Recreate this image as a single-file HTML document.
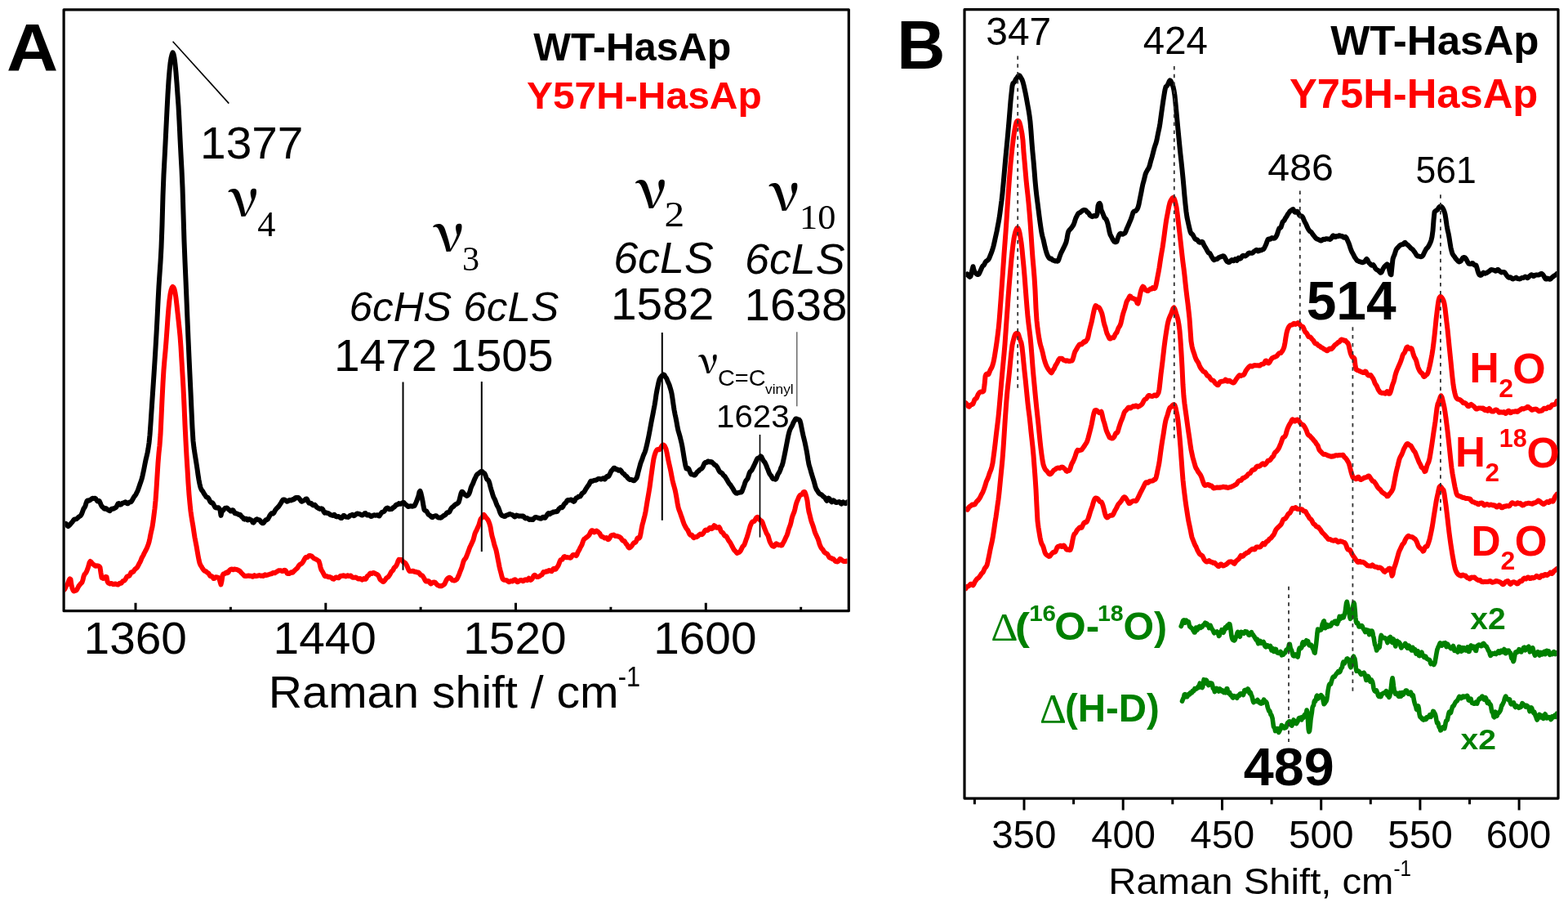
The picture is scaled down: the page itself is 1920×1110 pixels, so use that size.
<!DOCTYPE html><html><head><meta charset="utf-8"><title>Raman spectra</title><style>html,body{margin:0;padding:0;background:#fff;overflow:hidden}svg{display:block}</style></head><body>
<svg width="1920" height="1110" viewBox="0 0 1920 1110">
<rect width="1920" height="1110" fill="#fff"/>
<defs><clipPath id="ca"><rect x="79.5" y="13" width="958" height="733"/></clipPath><clipPath id="cb"><rect x="1182.5" y="13" width="724" height="962.5"/></clipPath></defs>
<g clip-path="url(#ca)" fill="none" stroke-linejoin="round" stroke-linecap="round">
<path d="M78.5,721.9 79.5,720.6 80.5,718.5 81.5,716.5 82.5,715.3 83.5,712.9 84.5,710.0 85.5,708.4 86.5,709.2 87.5,715.9 88.5,720.0 89.5,722.5 90.5,723.4 91.5,723.0 92.5,722.8 93.5,722.3 94.5,721.0 95.5,719.0 96.5,717.1 97.5,715.8 98.5,714.6 99.5,713.6 100.5,712.6 101.5,709.6 102.5,705.3 103.5,702.8 104.5,701.8 105.5,700.5 106.5,698.2 107.5,695.6 108.5,692.4 109.5,688.6 110.5,687.0 111.5,687.7 112.5,688.9 113.5,690.0 114.5,690.8 115.5,691.7 116.5,692.6 117.5,692.8 118.5,692.3 119.5,692.4 120.5,692.7 121.5,693.0 122.5,694.4 123.5,701.2 124.5,707.0 125.5,707.5 126.5,707.9 127.5,707.7 128.5,706.7 129.5,705.8 130.5,706.1 131.5,711.5 132.5,713.4 133.5,713.8 134.5,714.4 135.5,714.3 136.5,713.9 137.5,714.4 138.5,715.1 139.5,715.1 140.5,714.5 141.5,714.4 142.5,715.0 143.5,715.4 144.5,715.6 145.5,714.9 146.5,713.8 147.5,713.8 148.5,713.7 149.5,712.3 150.5,711.1 151.5,710.8 152.5,710.4 153.5,709.2 154.5,707.3 155.5,705.7 156.5,705.2 157.5,705.0 158.5,704.5 159.5,702.8 160.5,700.6 161.5,700.0 162.5,700.2 163.5,699.4 164.5,697.7 165.5,696.5 166.5,695.8 167.5,694.9 168.5,693.6 169.5,691.7 170.5,689.6 171.5,687.9 172.5,685.8 173.5,683.0 174.5,681.2 175.5,679.5 176.5,677.2 177.5,675.4 178.5,673.5 179.5,671.5 180.5,669.1 181.5,666.5 182.5,663.4 183.5,658.9 184.5,653.6 185.5,649.1 186.5,644.8 187.5,638.3 188.5,630.5 189.5,622.5 190.5,612.5 191.5,598.6 192.5,582.5 193.5,566.8 194.5,554.4 195.5,545.3 196.5,531.8 197.5,511.1 198.5,488.9 199.5,469.2 200.5,452.4 201.5,440.3 202.5,429.8 203.5,417.6 204.5,403.6 205.5,389.3 206.5,377.1 207.5,367.1 208.5,359.8 209.5,355.0 210.5,352.2 211.5,350.9 212.5,351.8 213.5,354.0 214.5,358.4 215.5,364.9 216.5,373.3 217.5,382.7 218.5,391.7 219.5,401.1 220.5,411.1 221.5,424.7 222.5,441.6 223.5,458.1 224.5,475.1 225.5,496.1 226.5,519.9 227.5,540.2 228.5,558.4 229.5,574.2 230.5,591.3 231.5,605.0 232.5,616.1 233.5,625.6 234.5,632.6 235.5,638.7 236.5,644.6 237.5,651.4 238.5,657.8 239.5,663.0 240.5,668.1 241.5,674.0 242.5,679.8 243.5,685.0 244.5,689.2 245.5,691.6 246.5,693.1 247.5,694.8 248.5,696.3 249.5,697.6 250.5,698.6 251.5,699.0 252.5,699.5 253.5,700.6 254.5,701.1 255.5,701.7 256.5,703.5 257.5,705.0 258.5,705.3 259.5,705.2 260.5,706.3 261.5,708.1 262.5,707.9 263.5,706.5 264.5,706.2 265.5,706.5 266.5,706.5 267.5,707.1 268.5,708.2 269.5,712.1 270.5,715.3 271.5,711.0 272.5,704.2 273.5,702.5 274.5,702.3 275.5,702.0 276.5,700.9 277.5,700.4 278.5,701.1 279.5,700.6 280.5,698.7 281.5,697.5 282.5,696.9 283.5,696.5 284.5,696.7 285.5,697.2 286.5,696.7 287.5,696.5 288.5,696.8 289.5,696.9 290.5,697.1 291.5,697.7 292.5,698.2 293.5,698.7 294.5,699.8 295.5,701.0 296.5,702.0 297.5,703.0 298.5,704.0 299.5,704.9 300.5,705.1 301.5,705.0 302.5,704.8 303.5,704.5 304.5,704.6 305.5,704.9 306.5,704.7 307.5,704.9 308.5,705.6 309.5,705.7 310.5,704.6 311.5,704.1 312.5,704.8 313.5,705.1 314.5,704.7 315.5,704.8 316.5,704.4 317.5,704.1 318.5,704.5 319.5,704.8 320.5,704.5 321.5,704.5 322.5,705.0 323.5,704.2 324.5,703.4 325.5,703.8 326.5,704.0 327.5,703.7 328.5,703.3 329.5,703.0 330.5,702.7 331.5,702.4 332.5,702.2 333.5,701.5 334.5,700.9 335.5,701.2 336.5,701.2 337.5,700.5 338.5,699.9 339.5,699.5 340.5,698.5 341.5,698.2 342.5,698.3 343.5,698.2 344.5,698.5 345.5,699.0 346.5,698.9 347.5,698.1 348.5,697.7 349.5,698.1 350.5,699.4 351.5,701.6 352.5,702.0 353.5,701.8 354.5,702.0 355.5,701.2 356.5,700.4 357.5,700.8 358.5,700.7 359.5,699.4 360.5,698.4 361.5,697.5 362.5,696.5 363.5,695.8 364.5,694.7 365.5,692.8 366.5,691.5 367.5,690.7 368.5,690.2 369.5,689.6 370.5,688.4 371.5,686.8 372.5,685.0 373.5,683.2 374.5,682.0 375.5,682.1 376.5,682.0 377.5,680.9 378.5,680.0 379.5,680.0 380.5,680.2 381.5,680.6 382.5,681.4 383.5,682.5 384.5,683.5 385.5,683.8 386.5,684.2 387.5,684.8 388.5,685.4 389.5,686.1 390.5,686.8 391.5,689.9 392.5,694.5 393.5,697.4 394.5,699.1 395.5,700.8 396.5,702.7 397.5,704.8 398.5,705.3 399.5,705.1 400.5,705.3 401.5,705.9 402.5,706.3 403.5,706.1 404.5,706.2 405.5,706.8 406.5,707.5 407.5,708.4 408.5,708.7 409.5,708.0 410.5,707.0 411.5,706.4 412.5,706.7 413.5,707.1 414.5,707.3 415.5,706.6 416.5,705.1 417.5,704.7 418.5,704.8 419.5,704.8 420.5,704.3 421.5,704.4 422.5,705.2 423.5,705.5 424.5,704.9 425.5,704.2 426.5,704.5 427.5,705.1 428.5,704.7 429.5,704.5 430.5,705.6 431.5,706.6 432.5,706.8 433.5,706.7 434.5,706.7 435.5,706.6 436.5,707.0 437.5,707.6 438.5,708.4 439.5,708.6 440.5,708.1 441.5,708.2 442.5,709.0 443.5,709.6 444.5,709.1 445.5,708.1 446.5,708.3 447.5,708.8 448.5,707.8 449.5,705.5 450.5,704.6 451.5,704.1 452.5,702.4 453.5,701.5 454.5,702.0 455.5,701.9 456.5,701.1 457.5,700.9 458.5,701.4 459.5,702.0 460.5,702.5 461.5,702.9 462.5,703.4 463.5,704.8 464.5,707.0 465.5,709.1 466.5,710.1 467.5,710.6 468.5,711.6 469.5,712.0 470.5,711.1 471.5,709.9 472.5,708.4 473.5,707.1 474.5,706.6 475.5,705.8 476.5,704.5 477.5,703.1 478.5,700.9 479.5,699.3 480.5,698.5 481.5,697.3 482.5,695.0 483.5,693.9 484.5,693.2 485.5,691.8 486.5,689.5 487.5,686.5 488.5,684.8 489.5,684.9 490.5,684.9 491.5,685.0 492.5,685.9 493.5,687.5 494.5,688.3 495.5,688.5 496.5,689.3 497.5,690.8 498.5,692.8 499.5,695.3 500.5,697.7 501.5,699.1 502.5,699.0 503.5,699.0 504.5,699.0 505.5,698.8 506.5,699.0 507.5,699.7 508.5,699.9 509.5,699.8 510.5,700.4 511.5,700.5 512.5,700.5 513.5,701.5 514.5,703.0 515.5,703.9 516.5,704.1 517.5,704.9 518.5,706.4 519.5,708.1 520.5,710.1 521.5,711.4 522.5,711.5 523.5,711.0 524.5,710.9 525.5,711.7 526.5,713.4 527.5,714.4 528.5,714.0 529.5,713.0 530.5,712.6 531.5,712.4 532.5,712.6 533.5,713.5 534.5,714.9 535.5,715.9 536.5,716.3 537.5,716.9 538.5,717.3 539.5,717.1 540.5,717.2 541.5,716.8 542.5,716.0 543.5,715.7 544.5,714.5 545.5,712.3 546.5,710.2 547.5,708.6 548.5,707.6 549.5,707.0 550.5,706.8 551.5,707.2 552.5,708.5 553.5,709.7 554.5,710.2 555.5,710.5 556.5,710.5 557.5,710.0 558.5,709.6 559.5,708.7 560.5,706.8 561.5,704.6 562.5,702.1 563.5,699.3 564.5,696.8 565.5,694.3 566.5,690.8 567.5,687.3 568.5,685.0 569.5,683.9 570.5,682.6 571.5,680.2 572.5,677.5 573.5,674.9 574.5,672.1 575.5,669.3 576.5,667.4 577.5,665.3 578.5,663.1 579.5,660.8 580.5,656.9 581.5,653.1 582.5,650.8 583.5,649.0 584.5,646.6 585.5,644.5 586.5,642.0 587.5,638.6 588.5,635.4 589.5,634.0 590.5,633.2 591.5,631.0 592.5,629.9 593.5,631.0 594.5,632.6 595.5,633.9 596.5,634.9 597.5,636.3 598.5,638.5 599.5,641.2 600.5,644.8 601.5,650.7 602.5,655.9 603.5,659.3 604.5,663.3 605.5,667.4 606.5,670.1 607.5,673.4 608.5,678.2 609.5,683.3 610.5,688.4 611.5,693.6 612.5,697.8 613.5,701.4 614.5,705.5 615.5,708.4 616.5,709.5 617.5,709.7 618.5,709.9 619.5,710.1 620.5,710.3 621.5,711.0 622.5,711.7 623.5,712.2 624.5,711.6 625.5,710.9 626.5,711.3 627.5,711.4 628.5,710.4 629.5,709.6 630.5,709.3 631.5,709.8 632.5,711.4 633.5,712.3 634.5,711.9 635.5,711.1 636.5,710.4 637.5,710.0 638.5,710.0 639.5,710.8 640.5,711.2 641.5,710.6 642.5,709.6 643.5,709.2 644.5,709.8 645.5,710.1 646.5,708.8 647.5,707.7 648.5,708.7 649.5,709.9 650.5,709.6 651.5,708.5 652.5,706.6 653.5,704.6 654.5,703.8 655.5,704.3 656.5,705.4 657.5,706.1 658.5,706.1 659.5,705.7 660.5,705.3 661.5,704.5 662.5,703.9 663.5,703.4 664.5,701.7 665.5,700.1 666.5,700.3 667.5,700.1 668.5,699.3 669.5,699.5 670.5,699.5 671.5,698.5 672.5,698.0 673.5,698.3 674.5,698.9 675.5,699.2 676.5,697.9 677.5,696.1 678.5,695.8 679.5,696.7 680.5,696.7 681.5,695.1 682.5,693.7 683.5,692.3 684.5,689.9 685.5,687.1 686.5,685.2 687.5,685.0 688.5,684.7 689.5,682.9 690.5,681.4 691.5,681.1 692.5,681.7 693.5,682.2 694.5,682.1 695.5,682.2 696.5,682.4 697.5,682.6 698.5,682.8 699.5,681.9 700.5,680.3 701.5,679.1 702.5,678.9 703.5,679.1 704.5,679.6 705.5,680.1 706.5,678.8 707.5,676.0 708.5,674.2 709.5,672.6 710.5,670.2 711.5,668.5 712.5,666.7 713.5,663.7 714.5,661.0 715.5,659.6 716.5,659.0 717.5,658.2 718.5,657.4 719.5,656.6 720.5,655.7 721.5,654.6 722.5,652.5 723.5,650.4 724.5,649.3 725.5,649.3 726.5,650.5 727.5,651.4 728.5,651.0 729.5,650.0 730.5,649.6 731.5,650.2 732.5,651.2 733.5,652.0 734.5,653.1 735.5,655.1 736.5,656.6 737.5,656.7 738.5,657.2 739.5,657.9 740.5,658.6 741.5,658.3 742.5,658.0 743.5,659.2 744.5,660.3 745.5,659.8 746.5,658.6 747.5,656.7 748.5,655.2 749.5,655.1 750.5,654.8 751.5,654.6 752.5,655.5 753.5,655.9 754.5,655.9 755.5,656.2 756.5,656.3 757.5,656.7 758.5,657.1 759.5,657.7 760.5,658.7 761.5,660.3 762.5,661.5 763.5,661.9 764.5,662.0 765.5,663.6 766.5,665.4 767.5,666.3 768.5,668.0 769.5,669.8 770.5,670.5 771.5,670.1 772.5,669.2 773.5,668.2 774.5,666.7 775.5,665.0 776.5,664.2 777.5,664.0 778.5,663.3 779.5,661.2 780.5,658.7 781.5,658.1 782.5,658.7 783.5,657.6 784.5,653.3 785.5,647.4 786.5,642.3 787.5,638.7 788.5,634.7 789.5,630.9 790.5,626.3 791.5,620.3 792.5,614.1 793.5,608.3 794.5,602.6 795.5,596.4 796.5,589.2 797.5,581.7 798.5,574.5 799.5,567.4 800.5,561.2 801.5,557.2 802.5,554.2 803.5,551.8 804.5,550.5 805.5,550.0 806.5,550.3 807.5,550.2 808.5,549.1 809.5,547.3 810.5,545.7 811.5,544.7 812.5,544.5 813.5,545.3 814.5,547.1 815.5,549.4 816.5,553.6 817.5,558.9 818.5,563.8 819.5,568.4 820.5,572.7 821.5,577.5 822.5,582.9 823.5,587.9 824.5,592.1 825.5,595.5 826.5,599.2 827.5,604.0 828.5,609.5 829.5,615.6 830.5,620.8 831.5,624.1 832.5,626.6 833.5,629.5 834.5,632.4 835.5,635.1 836.5,638.3 837.5,641.1 838.5,643.1 839.5,645.0 840.5,646.8 841.5,647.9 842.5,649.5 843.5,651.9 844.5,653.8 845.5,654.8 846.5,654.4 847.5,655.0 848.5,657.2 849.5,658.2 850.5,657.6 851.5,657.1 852.5,657.3 853.5,656.9 854.5,656.2 855.5,655.2 856.5,654.3 857.5,653.5 858.5,653.8 859.5,654.2 860.5,653.4 861.5,652.2 862.5,650.4 863.5,648.9 864.5,648.4 865.5,648.9 866.5,649.0 867.5,648.1 868.5,646.5 869.5,645.8 870.5,646.3 871.5,647.1 872.5,646.6 873.5,644.6 874.5,643.2 875.5,643.7 876.5,645.3 877.5,645.8 878.5,645.6 879.5,645.3 880.5,645.0 881.5,646.6 882.5,649.5 883.5,651.1 884.5,651.6 885.5,652.5 886.5,654.4 887.5,655.8 888.5,655.7 889.5,656.5 890.5,658.3 891.5,660.2 892.5,661.9 893.5,663.2 894.5,664.7 895.5,666.6 896.5,668.5 897.5,670.4 898.5,672.3 899.5,673.7 900.5,674.5 901.5,675.8 902.5,676.9 903.5,676.5 904.5,676.0 905.5,675.6 906.5,674.5 907.5,672.7 908.5,670.6 909.5,668.7 910.5,667.8 911.5,666.6 912.5,663.8 913.5,660.7 914.5,658.2 915.5,655.0 916.5,651.5 917.5,647.7 918.5,644.2 919.5,641.7 920.5,639.6 921.5,638.5 922.5,638.3 923.5,638.0 924.5,636.6 925.5,634.7 926.5,633.4 927.5,632.8 928.5,633.7 929.5,635.2 930.5,636.3 931.5,637.0 932.5,637.6 933.5,639.2 934.5,641.8 935.5,644.9 936.5,647.4 937.5,649.8 938.5,652.5 939.5,653.9 940.5,655.7 941.5,659.1 942.5,662.4 943.5,664.6 944.5,666.4 945.5,667.9 946.5,668.5 947.5,668.8 948.5,668.1 949.5,666.2 950.5,665.3 951.5,665.7 952.5,666.6 953.5,667.0 954.5,666.9 955.5,666.8 956.5,667.5 957.5,667.3 958.5,665.4 959.5,663.6 960.5,661.8 961.5,659.4 962.5,657.2 963.5,655.3 964.5,652.4 965.5,648.6 966.5,645.6 967.5,643.2 968.5,639.5 969.5,634.9 970.5,631.3 971.5,628.8 972.5,626.5 973.5,622.7 974.5,618.2 975.5,614.8 976.5,612.6 977.5,610.0 978.5,607.7 979.5,606.3 980.5,605.4 981.5,605.3 982.5,604.5 983.5,602.7 984.5,601.9 985.5,602.2 986.5,604.9 987.5,608.4 988.5,612.6 989.5,620.4 990.5,626.4 991.5,629.9 992.5,634.3 993.5,638.1 994.5,640.7 995.5,643.5 996.5,646.7 997.5,650.3 998.5,652.9 999.5,655.1 1000.5,657.4 1001.5,659.3 1002.5,662.4 1003.5,665.9 1004.5,668.4 1005.5,670.4 1006.5,671.7 1007.5,672.7 1008.5,674.3 1009.5,675.9 1010.5,676.7 1011.5,677.1 1012.5,677.6 1013.5,678.7 1014.5,680.6 1015.5,682.3 1016.5,682.7 1017.5,682.7 1018.5,683.7 1019.5,684.1 1020.5,684.1 1021.5,685.2 1022.5,686.5 1023.5,687.1 1024.5,687.3 1025.5,687.4 1026.5,686.8 1027.5,685.3 1028.5,684.0 1029.5,684.4 1030.5,685.4 1031.5,686.0 1032.5,686.6 1033.5,687.0 1034.5,687.1 1035.5,687.1 1036.5,686.5 1037.5,686.7" stroke="#ff0000" stroke-width="6.0"/>
<path d="M78.5,640.8 79.5,640.9 80.5,640.7 81.5,641.4 82.5,643.3 83.5,644.1 84.5,643.2 85.5,642.3 86.5,641.1 87.5,639.8 88.5,638.8 89.5,637.3 90.5,636.0 91.5,635.4 92.5,635.4 93.5,635.1 94.5,634.5 95.5,633.5 96.5,632.6 97.5,631.9 98.5,631.4 99.5,629.9 100.5,627.7 101.5,624.9 102.5,622.4 103.5,621.1 104.5,619.1 105.5,615.7 106.5,613.0 107.5,612.4 108.5,612.7 109.5,612.5 110.5,611.9 111.5,611.1 112.5,610.2 113.5,609.8 114.5,609.9 115.5,610.0 116.5,609.8 117.5,610.6 118.5,612.4 119.5,613.5 120.5,613.1 121.5,613.0 122.5,614.9 123.5,617.4 124.5,619.3 125.5,620.5 126.5,621.2 127.5,622.5 128.5,622.7 129.5,622.0 130.5,622.6 131.5,623.6 132.5,624.0 133.5,624.8 134.5,625.2 135.5,624.1 136.5,622.8 137.5,622.5 138.5,622.8 139.5,622.4 140.5,621.8 141.5,621.3 142.5,620.3 143.5,618.3 144.5,616.4 145.5,616.1 146.5,617.2 147.5,617.7 148.5,617.4 149.5,616.2 150.5,615.4 151.5,615.4 152.5,614.8 153.5,614.2 154.5,614.9 155.5,616.2 156.5,616.3 157.5,615.5 158.5,614.7 159.5,614.4 160.5,614.2 161.5,612.9 162.5,611.0 163.5,609.2 164.5,607.6 165.5,606.5 166.5,604.9 167.5,602.8 168.5,600.8 169.5,598.1 170.5,595.2 171.5,592.2 172.5,589.4 173.5,586.4 174.5,582.4 175.5,577.9 176.5,573.0 177.5,567.8 178.5,562.8 179.5,558.7 180.5,554.4 181.5,548.9 182.5,542.1 183.5,532.3 184.5,518.4 185.5,503.2 186.5,488.2 187.5,473.2 188.5,458.2 189.5,442.6 190.5,426.1 191.5,408.9 192.5,390.1 193.5,369.4 194.5,350.1 195.5,335.2 196.5,320.7 197.5,302.7 198.5,275.7 199.5,239.1 200.5,213.7 201.5,194.6 202.5,175.5 203.5,154.8 204.5,134.6 205.5,115.2 206.5,99.3 207.5,86.9 208.5,77.3 209.5,70.9 210.5,66.9 211.5,64.3 212.5,66.1 213.5,70.8 214.5,78.8 215.5,89.0 216.5,101.5 217.5,115.8 218.5,129.6 219.5,148.1 220.5,169.4 221.5,189.0 222.5,207.2 223.5,229.6 224.5,261.9 225.5,294.9 226.5,320.2 227.5,343.0 228.5,367.0 229.5,391.9 230.5,415.4 231.5,437.6 232.5,459.1 233.5,479.9 234.5,502.1 235.5,523.7 236.5,539.5 237.5,548.3 238.5,554.9 239.5,561.1 240.5,567.4 241.5,573.9 242.5,581.0 243.5,587.2 244.5,592.4 245.5,596.5 246.5,599.0 247.5,600.4 248.5,601.7 249.5,603.6 250.5,605.2 251.5,606.5 252.5,608.2 253.5,608.8 254.5,609.0 255.5,610.2 256.5,612.1 257.5,614.2 258.5,615.2 259.5,615.0 260.5,615.7 261.5,617.3 262.5,619.2 263.5,620.9 264.5,621.5 265.5,621.5 266.5,621.3 267.5,621.2 268.5,622.6 269.5,624.4 270.5,630.9 271.5,627.1 272.5,624.5 273.5,624.4 274.5,623.0 275.5,622.0 276.5,621.8 277.5,621.5 278.5,622.0 279.5,623.0 280.5,623.9 281.5,624.6 282.5,625.6 283.5,625.3 284.5,624.2 285.5,624.4 286.5,626.3 287.5,628.1 288.5,628.4 289.5,628.3 290.5,628.7 291.5,629.5 292.5,629.9 293.5,629.8 294.5,630.3 295.5,631.8 296.5,632.8 297.5,633.5 298.5,635.1 299.5,635.6 300.5,634.7 301.5,634.7 302.5,636.1 303.5,636.5 304.5,635.5 305.5,635.3 306.5,636.1 307.5,636.4 308.5,637.4 309.5,639.3 310.5,639.6 311.5,638.2 312.5,636.8 313.5,635.9 314.5,635.3 315.5,635.8 316.5,636.2 317.5,636.2 318.5,637.0 319.5,638.7 320.5,639.8 321.5,640.3 322.5,640.2 323.5,638.9 324.5,637.3 325.5,636.3 326.5,636.2 327.5,635.8 328.5,634.4 329.5,632.6 330.5,630.7 331.5,629.3 332.5,628.3 333.5,628.1 334.5,628.6 335.5,627.5 336.5,625.3 337.5,623.7 338.5,622.6 339.5,621.5 340.5,620.6 341.5,619.3 342.5,617.9 343.5,616.4 344.5,614.8 345.5,613.0 346.5,611.7 347.5,611.4 348.5,611.7 349.5,612.2 350.5,613.1 351.5,613.8 352.5,613.4 353.5,612.5 354.5,612.1 355.5,612.1 356.5,612.5 357.5,611.9 358.5,611.1 359.5,611.4 360.5,610.8 361.5,609.2 362.5,609.1 363.5,609.2 364.5,608.9 365.5,609.2 366.5,610.2 367.5,611.6 368.5,613.0 369.5,613.7 370.5,613.2 371.5,612.8 372.5,612.5 373.5,611.7 374.5,610.6 375.5,610.4 376.5,611.9 377.5,614.3 378.5,615.7 379.5,616.0 380.5,615.8 381.5,616.3 382.5,617.8 383.5,618.4 384.5,617.9 385.5,617.8 386.5,618.8 387.5,620.4 388.5,621.2 389.5,621.6 390.5,622.4 391.5,622.9 392.5,622.7 393.5,622.3 394.5,622.6 395.5,623.9 396.5,626.4 397.5,627.6 398.5,627.0 399.5,627.3 400.5,627.9 401.5,628.0 402.5,628.4 403.5,629.1 404.5,630.0 405.5,630.3 406.5,630.7 407.5,631.0 408.5,630.3 409.5,629.8 410.5,630.8 411.5,632.1 412.5,632.4 413.5,632.2 414.5,632.0 415.5,632.7 416.5,633.5 417.5,634.0 418.5,634.0 419.5,632.7 420.5,631.1 421.5,631.1 422.5,632.1 423.5,632.6 424.5,632.7 425.5,632.8 426.5,632.9 427.5,632.2 428.5,631.0 429.5,630.6 430.5,630.3 431.5,629.9 432.5,630.7 433.5,631.2 434.5,630.6 435.5,629.7 436.5,629.0 437.5,628.5 438.5,628.7 439.5,628.9 440.5,629.2 441.5,629.6 442.5,630.3 443.5,630.5 444.5,630.0 445.5,629.4 446.5,628.3 447.5,628.1 448.5,629.5 449.5,630.6 450.5,630.5 451.5,629.9 452.5,630.4 453.5,631.5 454.5,632.0 455.5,631.6 456.5,631.0 457.5,630.4 458.5,630.3 459.5,630.7 460.5,630.8 461.5,630.2 462.5,630.4 463.5,631.3 464.5,631.5 465.5,630.1 466.5,628.3 467.5,627.1 468.5,626.7 469.5,626.4 470.5,625.7 471.5,624.3 472.5,622.6 473.5,621.8 474.5,621.5 475.5,622.1 476.5,623.3 477.5,623.2 478.5,622.8 479.5,623.0 480.5,622.3 481.5,621.1 482.5,620.7 483.5,619.8 484.5,618.3 485.5,617.5 486.5,617.7 487.5,617.1 488.5,616.1 489.5,616.6 490.5,616.8 491.5,616.1 492.5,615.5 493.5,615.1 494.5,615.1 495.5,616.2 496.5,617.4 497.5,617.9 498.5,618.9 499.5,619.9 500.5,620.0 501.5,619.7 502.5,619.3 503.5,619.4 504.5,619.7 505.5,619.5 506.5,619.3 507.5,619.1 508.5,617.2 509.5,614.9 510.5,612.3 511.5,609.7 512.5,606.7 513.5,602.2 514.5,600.9 515.5,603.8 516.5,608.2 517.5,613.1 518.5,619.2 519.5,623.9 520.5,624.9 521.5,625.1 522.5,625.9 523.5,627.7 524.5,629.4 525.5,630.3 526.5,630.9 527.5,631.7 528.5,632.9 529.5,633.2 530.5,632.3 531.5,631.8 532.5,631.5 533.5,631.3 534.5,631.5 535.5,632.5 536.5,633.5 537.5,633.6 538.5,633.5 539.5,633.7 540.5,633.3 541.5,632.5 542.5,631.7 543.5,630.9 544.5,630.6 545.5,629.9 546.5,628.3 547.5,627.3 548.5,627.3 549.5,627.1 550.5,626.2 551.5,624.0 552.5,622.2 553.5,621.0 554.5,620.4 555.5,619.6 556.5,618.3 557.5,617.5 558.5,617.0 559.5,616.5 560.5,615.9 561.5,614.9 562.5,612.0 563.5,607.9 564.5,603.9 565.5,601.7 566.5,601.9 567.5,603.3 568.5,604.8 569.5,605.5 570.5,606.1 571.5,606.9 572.5,606.6 573.5,605.5 574.5,604.0 575.5,601.2 576.5,597.4 577.5,594.8 578.5,593.1 579.5,590.8 580.5,588.0 581.5,585.7 582.5,583.8 583.5,581.6 584.5,580.4 585.5,579.8 586.5,578.9 587.5,578.2 588.5,577.4 589.5,576.8 590.5,577.1 591.5,578.2 592.5,578.9 593.5,579.7 594.5,581.8 595.5,584.9 596.5,586.7 597.5,587.3 598.5,588.7 599.5,591.6 600.5,595.7 601.5,599.3 602.5,602.4 603.5,606.0 604.5,608.8 605.5,610.5 606.5,612.8 607.5,615.6 608.5,618.2 609.5,619.9 610.5,621.8 611.5,624.9 612.5,627.6 613.5,629.6 614.5,630.8 615.5,631.1 616.5,631.6 617.5,632.0 618.5,631.8 619.5,631.0 620.5,630.5 621.5,630.3 622.5,629.9 623.5,629.3 624.5,629.1 625.5,629.5 626.5,629.8 627.5,630.1 628.5,630.9 629.5,632.0 630.5,632.5 631.5,631.6 632.5,630.5 633.5,630.8 634.5,631.4 635.5,631.7 636.5,631.6 637.5,631.6 638.5,631.7 639.5,631.5 640.5,631.4 641.5,632.3 642.5,633.7 643.5,634.4 644.5,634.1 645.5,634.0 646.5,634.7 647.5,635.5 648.5,636.0 649.5,635.6 650.5,635.5 651.5,636.1 652.5,636.0 653.5,634.8 654.5,633.7 655.5,633.0 656.5,633.1 657.5,633.4 658.5,633.7 659.5,634.0 660.5,634.2 661.5,634.6 662.5,634.7 663.5,634.1 664.5,633.0 665.5,632.8 666.5,633.7 667.5,633.7 668.5,632.3 669.5,630.7 670.5,629.0 671.5,628.2 672.5,629.0 673.5,629.2 674.5,628.0 675.5,627.5 676.5,627.4 677.5,626.5 678.5,626.4 679.5,626.4 680.5,625.9 681.5,626.2 682.5,625.9 683.5,624.1 684.5,622.6 685.5,621.9 686.5,621.0 687.5,620.8 688.5,621.1 689.5,619.7 690.5,617.4 691.5,616.3 692.5,615.8 693.5,614.3 694.5,612.5 695.5,611.9 696.5,612.3 697.5,612.3 698.5,611.7 699.5,611.4 700.5,612.4 701.5,613.2 702.5,613.9 703.5,613.4 704.5,611.1 705.5,609.5 706.5,609.3 707.5,608.7 708.5,607.6 709.5,607.4 710.5,607.4 711.5,606.0 712.5,604.2 713.5,603.4 714.5,602.7 715.5,601.8 716.5,600.1 717.5,598.2 718.5,596.8 719.5,595.2 720.5,594.0 721.5,592.5 722.5,590.2 723.5,588.7 724.5,588.8 725.5,588.9 726.5,588.4 727.5,587.9 728.5,587.7 729.5,587.7 730.5,587.3 731.5,586.5 732.5,586.1 733.5,586.1 734.5,586.1 735.5,586.4 736.5,586.5 737.5,585.9 738.5,585.2 739.5,585.5 740.5,586.4 741.5,585.5 742.5,583.5 743.5,582.9 744.5,583.5 745.5,582.7 746.5,580.7 747.5,578.5 748.5,576.4 749.5,575.4 750.5,574.3 751.5,572.8 752.5,572.7 753.5,574.0 754.5,574.5 755.5,574.3 756.5,575.0 757.5,575.8 758.5,575.3 759.5,575.1 760.5,576.1 761.5,577.7 762.5,579.1 763.5,579.6 764.5,580.4 765.5,581.9 766.5,582.4 767.5,583.3 768.5,584.7 769.5,585.8 770.5,586.5 771.5,587.1 772.5,587.0 773.5,586.9 774.5,587.6 775.5,588.2 776.5,588.2 777.5,587.3 778.5,586.2 779.5,585.0 780.5,582.0 781.5,577.6 782.5,574.0 783.5,570.3 784.5,566.6 785.5,564.2 786.5,561.4 787.5,558.4 788.5,555.9 789.5,553.8 790.5,550.8 791.5,546.8 792.5,542.5 793.5,537.9 794.5,533.0 795.5,527.8 796.5,522.3 797.5,516.7 798.5,511.7 799.5,506.7 800.5,501.3 801.5,496.1 802.5,489.9 803.5,482.9 804.5,477.4 805.5,472.5 806.5,467.8 807.5,464.2 808.5,462.4 809.5,461.1 810.5,459.8 811.5,459.0 812.5,458.4 813.5,458.9 814.5,460.9 815.5,462.1 816.5,463.8 817.5,466.5 818.5,468.6 819.5,470.9 820.5,474.2 821.5,477.4 822.5,481.5 823.5,487.7 824.5,494.9 825.5,501.5 826.5,506.8 827.5,511.4 828.5,516.6 829.5,522.4 830.5,527.2 831.5,530.4 832.5,533.8 833.5,537.9 834.5,542.0 835.5,546.9 836.5,552.9 837.5,559.3 838.5,565.2 839.5,570.3 840.5,573.6 841.5,573.7 842.5,573.0 843.5,574.1 844.5,576.6 845.5,579.1 846.5,580.6 847.5,580.6 848.5,580.7 849.5,581.5 850.5,581.6 851.5,580.8 852.5,579.5 853.5,577.9 854.5,577.0 855.5,576.4 856.5,575.1 857.5,574.4 858.5,573.9 859.5,573.0 860.5,571.8 861.5,569.6 862.5,567.0 863.5,566.0 864.5,566.2 865.5,565.9 866.5,564.8 867.5,564.4 868.5,565.1 869.5,565.5 870.5,565.0 871.5,565.3 872.5,566.4 873.5,567.1 874.5,568.4 875.5,569.2 876.5,569.6 877.5,570.7 878.5,572.2 879.5,574.1 880.5,576.2 881.5,577.6 882.5,578.2 883.5,578.7 884.5,579.6 885.5,581.2 886.5,582.3 887.5,583.0 888.5,584.5 889.5,586.1 890.5,587.7 891.5,589.6 892.5,591.3 893.5,592.4 894.5,593.5 895.5,595.1 896.5,596.6 897.5,598.1 898.5,600.0 899.5,601.7 900.5,602.8 901.5,603.6 902.5,603.7 903.5,603.3 904.5,602.9 905.5,602.7 906.5,602.4 907.5,602.5 908.5,601.6 909.5,598.8 910.5,596.2 911.5,593.4 912.5,590.2 913.5,588.1 914.5,587.1 915.5,585.7 916.5,582.8 917.5,579.4 918.5,577.3 919.5,576.4 920.5,575.4 921.5,573.4 922.5,571.4 923.5,569.4 924.5,567.1 925.5,565.0 926.5,562.7 927.5,561.0 928.5,560.6 929.5,560.3 930.5,559.4 931.5,558.3 932.5,559.1 933.5,561.4 934.5,563.4 935.5,564.7 936.5,565.8 937.5,567.8 938.5,570.2 939.5,572.8 940.5,575.2 941.5,577.8 942.5,580.2 943.5,581.4 944.5,582.5 945.5,584.7 946.5,586.0 947.5,586.0 948.5,586.3 949.5,586.7 950.5,585.8 951.5,583.3 952.5,580.6 953.5,579.0 954.5,577.5 955.5,575.0 956.5,572.0 957.5,570.0 958.5,566.8 959.5,562.3 960.5,557.7 961.5,552.7 962.5,547.5 963.5,542.2 964.5,537.1 965.5,532.2 966.5,528.2 967.5,525.5 968.5,523.5 969.5,521.8 970.5,519.7 971.5,517.2 972.5,515.4 973.5,513.7 974.5,512.4 975.5,512.5 976.5,513.1 977.5,513.4 978.5,513.7 979.5,514.9 980.5,518.4 981.5,523.3 982.5,528.3 983.5,532.9 984.5,536.9 985.5,541.1 986.5,545.8 987.5,550.8 988.5,556.6 989.5,563.0 990.5,568.5 991.5,571.9 992.5,575.2 993.5,579.0 994.5,582.2 995.5,585.3 996.5,588.5 997.5,592.1 998.5,595.9 999.5,598.5 1000.5,600.0 1001.5,601.6 1002.5,603.2 1003.5,604.3 1004.5,604.8 1005.5,605.1 1006.5,605.9 1007.5,607.0 1008.5,607.9 1009.5,608.5 1010.5,609.7 1011.5,611.6 1012.5,612.8 1013.5,611.5 1014.5,609.7 1015.5,610.2 1016.5,611.8 1017.5,613.4 1018.5,614.3 1019.5,613.4 1020.5,612.3 1021.5,613.0 1022.5,614.1 1023.5,614.9 1024.5,615.1 1025.5,614.6 1026.5,614.3 1027.5,614.0 1028.5,614.7 1029.5,616.2 1030.5,616.6 1031.5,615.2 1032.5,614.4 1033.5,615.1 1034.5,615.9 1035.5,616.2 1036.5,615.3 1037.5,614.4" stroke="#000" stroke-width="6.0"/>
</g>
<g clip-path="url(#cb)" fill="none" stroke-linejoin="round" stroke-linecap="round">
<path d="M1182.5,720.3 1183.5,718.3 1184.5,717.8 1185.5,717.6 1186.5,716.9 1187.5,715.8 1188.5,714.7 1189.5,714.7 1190.5,715.7 1191.5,716.4 1192.5,714.9 1193.5,712.5 1194.5,710.9 1195.5,709.5 1196.5,708.3 1197.5,707.6 1198.5,706.8 1199.5,705.6 1200.5,704.2 1201.5,702.5 1202.5,701.3 1203.5,700.5 1204.5,698.6 1205.5,696.2 1206.5,694.6 1207.5,693.6 1208.5,691.7 1209.5,687.6 1210.5,682.8 1211.5,678.0 1212.5,672.8 1213.5,668.1 1214.5,663.8 1215.5,658.7 1216.5,652.6 1217.5,645.7 1218.5,638.7 1219.5,632.7 1220.5,625.7 1221.5,618.3 1222.5,611.4 1223.5,602.8 1224.5,592.6 1225.5,582.5 1226.5,572.6 1227.5,561.9 1228.5,548.9 1229.5,533.7 1230.5,518.0 1231.5,503.5 1232.5,489.8 1233.5,478.3 1234.5,469.1 1235.5,460.0 1236.5,449.9 1237.5,439.5 1238.5,429.8 1239.5,422.1 1240.5,417.8 1241.5,413.9 1242.5,410.6 1243.5,408.8 1244.5,407.9 1245.5,407.8 1246.5,408.2 1247.5,410.5 1248.5,414.0 1249.5,416.8 1250.5,419.4 1251.5,424.9 1252.5,433.9 1253.5,444.3 1254.5,454.4 1255.5,463.4 1256.5,473.2 1257.5,483.5 1258.5,493.4 1259.5,501.8 1260.5,509.4 1261.5,518.3 1262.5,528.4 1263.5,537.5 1264.5,546.6 1265.5,557.3 1266.5,570.5 1267.5,583.8 1268.5,598.9 1269.5,619.2 1270.5,637.7 1271.5,645.4 1272.5,651.6 1273.5,657.5 1274.5,662.3 1275.5,665.5 1276.5,667.1 1277.5,669.2 1278.5,672.7 1279.5,676.2 1280.5,678.1 1281.5,679.0 1282.5,679.7 1283.5,680.5 1284.5,680.9 1285.5,680.6 1286.5,679.3 1287.5,678.0 1288.5,676.9 1289.5,676.0 1290.5,675.6 1291.5,675.8 1292.5,674.9 1293.5,672.5 1294.5,669.8 1295.5,668.8 1296.5,668.8 1297.5,668.3 1298.5,667.9 1299.5,668.9 1300.5,669.1 1301.5,667.9 1302.5,667.6 1303.5,668.5 1304.5,670.1 1305.5,671.9 1306.5,672.8 1307.5,672.6 1308.5,672.6 1309.5,673.2 1310.5,673.1 1311.5,670.5 1312.5,666.0 1313.5,660.6 1314.5,656.1 1315.5,653.6 1316.5,652.8 1317.5,651.4 1318.5,649.4 1319.5,648.1 1320.5,647.2 1321.5,646.0 1322.5,645.3 1323.5,645.9 1324.5,645.8 1325.5,643.7 1326.5,641.3 1327.5,639.7 1328.5,639.1 1329.5,639.4 1330.5,638.9 1331.5,637.0 1332.5,634.5 1333.5,631.6 1334.5,628.2 1335.5,624.9 1336.5,622.2 1337.5,619.4 1338.5,615.9 1339.5,612.7 1340.5,610.4 1341.5,609.5 1342.5,609.7 1343.5,609.9 1344.5,610.6 1345.5,612.2 1346.5,613.6 1347.5,614.2 1348.5,614.2 1349.5,615.8 1350.5,618.6 1351.5,622.3 1352.5,626.6 1353.5,630.2 1354.5,632.4 1355.5,633.4 1356.5,633.2 1357.5,632.2 1358.5,631.4 1359.5,630.9 1360.5,630.6 1361.5,630.8 1362.5,630.4 1363.5,628.9 1364.5,626.5 1365.5,624.4 1366.5,622.9 1367.5,621.0 1368.5,618.7 1369.5,617.0 1370.5,615.9 1371.5,615.0 1372.5,613.6 1373.5,612.3 1374.5,610.6 1375.5,609.1 1376.5,608.3 1377.5,608.4 1378.5,609.5 1379.5,611.1 1380.5,612.6 1381.5,614.5 1382.5,616.0 1383.5,616.1 1384.5,615.2 1385.5,614.1 1386.5,613.5 1387.5,613.3 1388.5,612.9 1389.5,613.1 1390.5,613.2 1391.5,612.7 1392.5,611.1 1393.5,609.1 1394.5,607.2 1395.5,605.0 1396.5,602.9 1397.5,601.0 1398.5,599.1 1399.5,597.2 1400.5,595.1 1401.5,593.0 1402.5,591.0 1403.5,590.2 1404.5,590.2 1405.5,590.9 1406.5,590.4 1407.5,588.9 1408.5,588.7 1409.5,588.7 1410.5,588.6 1411.5,588.6 1412.5,587.7 1413.5,586.8 1414.5,586.7 1415.5,584.9 1416.5,580.8 1417.5,575.7 1418.5,571.2 1419.5,565.9 1420.5,558.6 1421.5,551.2 1422.5,544.3 1423.5,537.9 1424.5,531.9 1425.5,525.4 1426.5,519.0 1427.5,514.1 1428.5,511.0 1429.5,508.2 1430.5,504.5 1431.5,501.3 1432.5,499.1 1433.5,498.2 1434.5,497.7 1435.5,496.3 1436.5,495.4 1437.5,495.1 1438.5,495.9 1439.5,498.9 1440.5,503.6 1441.5,508.2 1442.5,515.0 1443.5,524.0 1444.5,534.7 1445.5,547.1 1446.5,561.0 1447.5,574.8 1448.5,587.2 1449.5,596.7 1450.5,604.9 1451.5,612.9 1452.5,619.9 1453.5,626.3 1454.5,632.7 1455.5,638.4 1456.5,643.0 1457.5,647.7 1458.5,653.0 1459.5,657.5 1460.5,660.2 1461.5,662.6 1462.5,665.3 1463.5,667.5 1464.5,669.0 1465.5,671.5 1466.5,673.9 1467.5,675.5 1468.5,677.4 1469.5,678.5 1470.5,679.1 1471.5,679.7 1472.5,680.6 1473.5,682.6 1474.5,684.8 1475.5,685.9 1476.5,687.0 1477.5,687.5 1478.5,687.5 1479.5,686.7 1480.5,686.0 1481.5,686.8 1482.5,687.7 1483.5,687.7 1484.5,688.1 1485.5,689.0 1486.5,688.9 1487.5,688.8 1488.5,689.8 1489.5,691.1 1490.5,691.8 1491.5,692.8 1492.5,693.1 1493.5,691.9 1494.5,690.5 1495.5,690.4 1496.5,691.5 1497.5,692.4 1498.5,692.3 1499.5,691.8 1500.5,691.2 1501.5,690.7 1502.5,690.0 1503.5,689.1 1504.5,688.0 1505.5,687.4 1506.5,687.4 1507.5,687.3 1508.5,687.6 1509.5,688.4 1510.5,689.3 1511.5,689.8 1512.5,688.5 1513.5,686.7 1514.5,686.0 1515.5,685.2 1516.5,684.3 1517.5,683.4 1518.5,681.3 1519.5,679.8 1520.5,680.4 1521.5,680.9 1522.5,680.4 1523.5,678.9 1524.5,677.9 1525.5,677.6 1526.5,676.6 1527.5,676.2 1528.5,676.1 1529.5,674.9 1530.5,673.7 1531.5,673.1 1532.5,672.5 1533.5,671.7 1534.5,671.8 1535.5,672.4 1536.5,672.3 1537.5,670.7 1538.5,669.5 1539.5,669.6 1540.5,669.4 1541.5,669.4 1542.5,669.5 1543.5,669.1 1544.5,667.9 1545.5,666.3 1546.5,665.0 1547.5,665.6 1548.5,666.3 1549.5,665.0 1550.5,663.3 1551.5,662.4 1552.5,662.2 1553.5,661.0 1554.5,659.6 1555.5,659.0 1556.5,658.3 1557.5,656.9 1558.5,655.6 1559.5,654.6 1560.5,652.7 1561.5,650.1 1562.5,648.1 1563.5,646.9 1564.5,645.9 1565.5,644.8 1566.5,644.0 1567.5,643.1 1568.5,642.0 1569.5,640.1 1570.5,637.5 1571.5,635.5 1572.5,635.2 1573.5,635.0 1574.5,633.9 1575.5,632.4 1576.5,630.7 1577.5,629.1 1578.5,628.2 1579.5,627.7 1580.5,626.0 1581.5,623.6 1582.5,622.1 1583.5,622.1 1584.5,622.3 1585.5,621.5 1586.5,621.1 1587.5,622.1 1588.5,622.9 1589.5,622.9 1590.5,623.0 1591.5,623.2 1592.5,623.3 1593.5,623.2 1594.5,623.5 1595.5,624.7 1596.5,625.6 1597.5,625.7 1598.5,625.7 1599.5,627.5 1600.5,629.5 1601.5,630.8 1602.5,632.5 1603.5,634.2 1604.5,635.1 1605.5,635.8 1606.5,637.4 1607.5,639.6 1608.5,641.1 1609.5,641.7 1610.5,642.5 1611.5,643.9 1612.5,644.8 1613.5,644.8 1614.5,645.3 1615.5,646.7 1616.5,647.8 1617.5,649.2 1618.5,651.0 1619.5,652.2 1620.5,653.0 1621.5,654.0 1622.5,655.0 1623.5,656.4 1624.5,657.4 1625.5,658.6 1626.5,659.9 1627.5,660.1 1628.5,659.9 1629.5,660.4 1630.5,661.1 1631.5,661.4 1632.5,661.7 1633.5,661.7 1634.5,661.1 1635.5,660.7 1636.5,661.5 1637.5,662.7 1638.5,663.5 1639.5,663.2 1640.5,662.5 1641.5,662.3 1642.5,662.6 1643.5,662.9 1644.5,663.4 1645.5,663.9 1646.5,664.2 1647.5,665.4 1648.5,667.7 1649.5,670.7 1650.5,672.5 1651.5,672.7 1652.5,672.7 1653.5,673.7 1654.5,676.0 1655.5,678.0 1656.5,679.6 1657.5,681.2 1658.5,682.4 1659.5,684.0 1660.5,685.5 1661.5,686.6 1662.5,687.9 1663.5,688.1 1664.5,687.0 1665.5,686.9 1666.5,688.0 1667.5,688.1 1668.5,687.7 1669.5,688.1 1670.5,688.8 1671.5,689.5 1672.5,690.3 1673.5,691.3 1674.5,692.2 1675.5,692.5 1676.5,692.4 1677.5,692.6 1678.5,692.7 1679.5,692.0 1680.5,691.4 1681.5,692.1 1682.5,693.1 1683.5,693.7 1684.5,693.7 1685.5,693.8 1686.5,694.4 1687.5,695.0 1688.5,694.7 1689.5,694.4 1690.5,694.9 1691.5,695.7 1692.5,696.7 1693.5,697.9 1694.5,699.2 1695.5,699.9 1696.5,699.0 1697.5,698.2 1698.5,697.7 1699.5,697.0 1700.5,695.8 1701.5,695.5 1702.5,696.1 1703.5,700.2 1704.5,704.8 1705.5,702.7 1706.5,697.0 1707.5,693.8 1708.5,691.2 1709.5,687.8 1710.5,684.2 1711.5,680.7 1712.5,677.1 1713.5,674.3 1714.5,672.2 1715.5,670.1 1716.5,667.9 1717.5,666.0 1718.5,665.2 1719.5,663.8 1720.5,661.2 1721.5,659.3 1722.5,657.9 1723.5,656.6 1724.5,655.8 1725.5,656.3 1726.5,656.7 1727.5,657.1 1728.5,657.2 1729.5,657.3 1730.5,658.1 1731.5,659.0 1732.5,659.4 1733.5,660.7 1734.5,662.5 1735.5,664.9 1736.5,667.7 1737.5,669.4 1738.5,670.4 1739.5,671.3 1740.5,671.7 1741.5,673.1 1742.5,674.6 1743.5,673.8 1744.5,670.9 1745.5,669.0 1746.5,669.1 1747.5,668.6 1748.5,666.2 1749.5,663.3 1750.5,660.1 1751.5,655.7 1752.5,651.0 1753.5,645.9 1754.5,639.9 1755.5,633.3 1756.5,627.0 1757.5,620.8 1758.5,614.4 1759.5,609.3 1760.5,605.0 1761.5,599.9 1762.5,595.9 1763.5,595.0 1764.5,596.0 1765.5,597.5 1766.5,598.7 1767.5,599.8 1768.5,604.0 1769.5,611.2 1770.5,618.1 1771.5,626.1 1772.5,634.7 1773.5,643.5 1774.5,651.8 1775.5,659.4 1776.5,666.5 1777.5,673.0 1778.5,679.4 1779.5,684.9 1780.5,690.3 1781.5,695.0 1782.5,698.1 1783.5,700.2 1784.5,701.8 1785.5,702.9 1786.5,703.7 1787.5,704.1 1788.5,704.7 1789.5,704.7 1790.5,703.8 1791.5,703.6 1792.5,704.3 1793.5,704.5 1794.5,704.5 1795.5,706.0 1796.5,707.0 1797.5,707.0 1798.5,707.6 1799.5,708.5 1800.5,708.0 1801.5,706.7 1802.5,706.6 1803.5,706.8 1804.5,706.5 1805.5,706.5 1806.5,707.7 1807.5,708.5 1808.5,709.1 1809.5,709.8 1810.5,710.2 1811.5,710.0 1812.5,710.1 1813.5,711.3 1814.5,712.0 1815.5,712.0 1816.5,712.2 1817.5,711.9 1818.5,711.8 1819.5,712.1 1820.5,712.0 1821.5,712.0 1822.5,711.8 1823.5,711.4 1824.5,710.9 1825.5,711.4 1826.5,712.5 1827.5,712.8 1828.5,712.4 1829.5,712.2 1830.5,711.9 1831.5,711.1 1832.5,711.0 1833.5,711.5 1834.5,711.6 1835.5,711.9 1836.5,712.4 1837.5,712.8 1838.5,713.6 1839.5,714.8 1840.5,715.2 1841.5,714.6 1842.5,713.4 1843.5,712.2 1844.5,711.5 1845.5,711.2 1846.5,711.1 1847.5,712.3 1848.5,714.1 1849.5,714.9 1850.5,714.1 1851.5,712.9 1852.5,712.4 1853.5,712.3 1854.5,712.5 1855.5,712.8 1856.5,713.6 1857.5,714.4 1858.5,714.2 1859.5,713.3 1860.5,711.8 1861.5,711.0 1862.5,711.5 1863.5,711.2 1864.5,709.7 1865.5,708.3 1866.5,707.6 1867.5,708.0 1868.5,708.5 1869.5,707.8 1870.5,706.7 1871.5,706.4 1872.5,707.3 1873.5,708.1 1874.5,707.9 1875.5,707.0 1876.5,706.8 1877.5,707.4 1878.5,707.1 1879.5,706.5 1880.5,705.8 1881.5,704.8 1882.5,705.1 1883.5,705.9 1884.5,706.7 1885.5,706.9 1886.5,705.7 1887.5,704.2 1888.5,704.3 1889.5,704.8 1890.5,704.3 1891.5,703.1 1892.5,702.9 1893.5,703.9 1894.5,704.1 1895.5,703.2 1896.5,702.4 1897.5,701.9 1898.5,700.6 1899.5,701.0 1900.5,701.9 1901.5,700.9 1902.5,699.3 1903.5,698.4 1904.5,697.8 1905.5,696.8 1906.5,696.0" stroke="#ff0000" stroke-width="6.0"/>
<path d="M1182.5,622.8 1183.5,623.4 1184.5,623.8 1185.5,622.5 1186.5,620.6 1187.5,619.8 1188.5,619.3 1189.5,618.4 1190.5,617.5 1191.5,617.4 1192.5,617.7 1193.5,617.4 1194.5,616.1 1195.5,614.4 1196.5,613.2 1197.5,612.5 1198.5,611.0 1199.5,609.8 1200.5,608.1 1201.5,605.8 1202.5,604.0 1203.5,602.1 1204.5,599.5 1205.5,596.7 1206.5,593.7 1207.5,590.2 1208.5,587.7 1209.5,585.6 1210.5,583.0 1211.5,579.7 1212.5,577.2 1213.5,574.7 1214.5,571.2 1215.5,566.8 1216.5,559.7 1217.5,552.0 1218.5,543.9 1219.5,535.0 1220.5,526.6 1221.5,518.7 1222.5,510.0 1223.5,499.6 1224.5,488.0 1225.5,476.5 1226.5,465.1 1227.5,453.9 1228.5,443.2 1229.5,432.8 1230.5,421.2 1231.5,407.0 1232.5,392.6 1233.5,378.8 1234.5,364.7 1235.5,351.6 1236.5,339.6 1237.5,327.9 1238.5,316.9 1239.5,307.6 1240.5,299.2 1241.5,292.2 1242.5,287.2 1243.5,283.3 1244.5,280.8 1245.5,279.0 1246.5,279.4 1247.5,281.4 1248.5,284.9 1249.5,290.5 1250.5,296.7 1251.5,305.2 1252.5,315.6 1253.5,325.9 1254.5,337.3 1255.5,350.5 1256.5,363.4 1257.5,376.1 1258.5,387.4 1259.5,396.4 1260.5,404.1 1261.5,412.4 1262.5,422.8 1263.5,435.3 1264.5,448.4 1265.5,460.1 1266.5,470.4 1267.5,481.1 1268.5,491.3 1269.5,500.9 1270.5,510.1 1271.5,519.5 1272.5,529.6 1273.5,539.6 1274.5,548.6 1275.5,556.3 1276.5,563.4 1277.5,568.6 1278.5,571.5 1279.5,573.8 1280.5,575.2 1281.5,576.1 1282.5,577.2 1283.5,578.5 1284.5,579.9 1285.5,580.4 1286.5,580.1 1287.5,579.2 1288.5,577.8 1289.5,576.4 1290.5,575.3 1291.5,575.0 1292.5,574.2 1293.5,573.3 1294.5,572.9 1295.5,572.6 1296.5,572.7 1297.5,573.0 1298.5,572.5 1299.5,571.8 1300.5,571.6 1301.5,571.9 1302.5,572.9 1303.5,573.5 1304.5,574.5 1305.5,576.4 1306.5,576.9 1307.5,576.2 1308.5,576.0 1309.5,575.5 1310.5,573.3 1311.5,569.9 1312.5,567.2 1313.5,565.6 1314.5,563.5 1315.5,561.3 1316.5,558.5 1317.5,555.3 1318.5,552.4 1319.5,550.9 1320.5,551.2 1321.5,551.5 1322.5,550.9 1323.5,550.8 1324.5,550.4 1325.5,549.0 1326.5,547.7 1327.5,546.3 1328.5,544.7 1329.5,543.2 1330.5,541.5 1331.5,539.2 1332.5,535.8 1333.5,531.9 1334.5,528.2 1335.5,524.3 1336.5,520.1 1337.5,515.2 1338.5,509.9 1339.5,505.5 1340.5,502.7 1341.5,501.9 1342.5,501.9 1343.5,502.8 1344.5,503.9 1345.5,504.8 1346.5,505.3 1347.5,504.3 1348.5,503.7 1349.5,507.0 1350.5,511.9 1351.5,515.4 1352.5,518.4 1353.5,522.2 1354.5,526.1 1355.5,528.8 1356.5,530.9 1357.5,533.1 1358.5,535.2 1359.5,535.9 1360.5,536.0 1361.5,536.5 1362.5,536.3 1363.5,535.5 1364.5,534.3 1365.5,531.9 1366.5,530.0 1367.5,530.0 1368.5,528.8 1369.5,525.6 1370.5,522.2 1371.5,519.1 1372.5,516.1 1373.5,513.8 1374.5,511.4 1375.5,508.3 1376.5,505.2 1377.5,503.3 1378.5,502.5 1379.5,501.4 1380.5,500.1 1381.5,498.9 1382.5,498.6 1383.5,499.4 1384.5,499.4 1385.5,498.5 1386.5,497.8 1387.5,497.1 1388.5,497.3 1389.5,497.5 1390.5,496.6 1391.5,496.5 1392.5,497.5 1393.5,497.9 1394.5,497.4 1395.5,496.8 1396.5,496.1 1397.5,495.6 1398.5,494.5 1399.5,492.7 1400.5,490.6 1401.5,489.1 1402.5,488.5 1403.5,488.2 1404.5,486.7 1405.5,485.0 1406.5,483.9 1407.5,484.0 1408.5,484.5 1409.5,484.8 1410.5,484.9 1411.5,484.9 1412.5,484.4 1413.5,483.5 1414.5,483.7 1415.5,484.5 1416.5,484.0 1417.5,482.5 1418.5,480.8 1419.5,476.4 1420.5,467.6 1421.5,458.2 1422.5,450.7 1423.5,442.5 1424.5,433.7 1425.5,424.9 1426.5,417.1 1427.5,410.1 1428.5,403.7 1429.5,397.7 1430.5,393.1 1431.5,389.8 1432.5,387.4 1433.5,385.4 1434.5,383.0 1435.5,380.0 1436.5,377.4 1437.5,376.5 1438.5,378.2 1439.5,381.4 1440.5,384.7 1441.5,387.7 1442.5,391.5 1443.5,397.2 1444.5,404.7 1445.5,416.6 1446.5,431.8 1447.5,449.3 1448.5,470.8 1449.5,485.1 1450.5,494.2 1451.5,501.5 1452.5,508.5 1453.5,515.9 1454.5,523.2 1455.5,530.0 1456.5,536.6 1457.5,543.8 1458.5,550.3 1459.5,555.2 1460.5,559.7 1461.5,563.3 1462.5,566.8 1463.5,570.3 1464.5,572.9 1465.5,574.3 1466.5,576.2 1467.5,578.0 1468.5,579.1 1469.5,580.6 1470.5,582.3 1471.5,584.7 1472.5,587.7 1473.5,590.7 1474.5,593.1 1475.5,594.1 1476.5,594.0 1477.5,593.4 1478.5,593.1 1479.5,593.0 1480.5,593.3 1481.5,594.5 1482.5,594.6 1483.5,594.4 1484.5,595.5 1485.5,597.0 1486.5,597.5 1487.5,597.2 1488.5,597.0 1489.5,596.7 1490.5,596.5 1491.5,596.7 1492.5,596.7 1493.5,596.5 1494.5,596.7 1495.5,596.4 1496.5,596.2 1497.5,595.8 1498.5,595.7 1499.5,596.1 1500.5,596.4 1501.5,596.1 1502.5,596.6 1503.5,597.1 1504.5,596.6 1505.5,596.3 1506.5,596.3 1507.5,595.9 1508.5,595.4 1509.5,595.0 1510.5,594.7 1511.5,593.9 1512.5,593.2 1513.5,593.0 1514.5,591.9 1515.5,590.2 1516.5,589.0 1517.5,588.3 1518.5,588.1 1519.5,587.9 1520.5,587.0 1521.5,585.4 1522.5,584.8 1523.5,584.8 1524.5,584.1 1525.5,583.4 1526.5,582.8 1527.5,581.5 1528.5,580.1 1529.5,579.6 1530.5,579.4 1531.5,578.1 1532.5,576.4 1533.5,575.3 1534.5,574.7 1535.5,574.8 1536.5,574.3 1537.5,572.9 1538.5,571.3 1539.5,570.6 1540.5,570.9 1541.5,570.7 1542.5,570.2 1543.5,569.7 1544.5,568.7 1545.5,567.8 1546.5,567.3 1547.5,567.8 1548.5,568.7 1549.5,568.0 1550.5,566.8 1551.5,565.5 1552.5,563.8 1553.5,563.7 1554.5,563.6 1555.5,562.6 1556.5,561.3 1557.5,559.8 1558.5,559.1 1559.5,557.8 1560.5,555.1 1561.5,553.5 1562.5,552.9 1563.5,551.9 1564.5,550.5 1565.5,549.2 1566.5,547.2 1567.5,544.7 1568.5,542.3 1569.5,539.4 1570.5,536.5 1571.5,535.1 1572.5,534.9 1573.5,533.9 1574.5,531.6 1575.5,527.9 1576.5,524.7 1577.5,522.5 1578.5,520.3 1579.5,518.7 1580.5,517.1 1581.5,514.9 1582.5,513.3 1583.5,513.8 1584.5,515.3 1585.5,515.6 1586.5,515.0 1587.5,513.9 1588.5,513.5 1589.5,514.0 1590.5,515.2 1591.5,516.6 1592.5,518.1 1593.5,519.2 1594.5,519.5 1595.5,520.0 1596.5,520.9 1597.5,522.6 1598.5,524.3 1599.5,526.3 1600.5,529.1 1601.5,531.6 1602.5,532.7 1603.5,533.1 1604.5,534.0 1605.5,535.3 1606.5,536.2 1607.5,537.3 1608.5,538.7 1609.5,539.9 1610.5,540.8 1611.5,542.6 1612.5,543.9 1613.5,545.1 1614.5,548.0 1615.5,550.6 1616.5,551.8 1617.5,552.8 1618.5,553.9 1619.5,555.0 1620.5,555.8 1621.5,556.1 1622.5,556.1 1623.5,556.2 1624.5,556.8 1625.5,557.2 1626.5,557.7 1627.5,558.0 1628.5,558.2 1629.5,558.8 1630.5,558.7 1631.5,558.2 1632.5,558.4 1633.5,558.3 1634.5,557.6 1635.5,557.2 1636.5,557.2 1637.5,557.4 1638.5,557.3 1639.5,557.1 1640.5,557.1 1641.5,556.9 1642.5,557.1 1643.5,556.9 1644.5,556.7 1645.5,558.2 1646.5,559.8 1647.5,560.4 1648.5,561.6 1649.5,563.2 1650.5,564.8 1651.5,566.7 1652.5,569.8 1653.5,573.9 1654.5,577.8 1655.5,581.1 1656.5,584.0 1657.5,585.3 1658.5,585.1 1659.5,585.3 1660.5,586.3 1661.5,585.8 1662.5,584.0 1663.5,583.8 1664.5,585.2 1665.5,586.7 1666.5,587.1 1667.5,586.4 1668.5,586.0 1669.5,585.4 1670.5,584.6 1671.5,584.5 1672.5,584.3 1673.5,583.9 1674.5,583.2 1675.5,582.4 1676.5,582.7 1677.5,584.1 1678.5,585.6 1679.5,587.1 1680.5,588.5 1681.5,589.0 1682.5,589.4 1683.5,590.6 1684.5,592.1 1685.5,593.8 1686.5,595.6 1687.5,596.9 1688.5,598.0 1689.5,598.7 1690.5,599.8 1691.5,601.3 1692.5,602.4 1693.5,603.2 1694.5,603.8 1695.5,604.5 1696.5,605.1 1697.5,606.0 1698.5,607.3 1699.5,607.3 1700.5,605.9 1701.5,604.3 1702.5,603.3 1703.5,602.0 1704.5,600.5 1705.5,598.5 1706.5,594.2 1707.5,588.8 1708.5,583.4 1709.5,578.3 1710.5,574.1 1711.5,570.3 1712.5,566.0 1713.5,562.0 1714.5,559.5 1715.5,557.8 1716.5,556.0 1717.5,553.5 1718.5,550.7 1719.5,548.5 1720.5,546.9 1721.5,544.9 1722.5,543.4 1723.5,542.9 1724.5,543.4 1725.5,544.5 1726.5,545.0 1727.5,545.3 1728.5,547.0 1729.5,548.8 1730.5,550.5 1731.5,552.0 1732.5,553.1 1733.5,555.3 1734.5,558.0 1735.5,560.4 1736.5,562.8 1737.5,565.4 1738.5,567.3 1739.5,569.1 1740.5,571.7 1741.5,572.7 1742.5,572.9 1743.5,574.8 1744.5,577.1 1745.5,576.6 1746.5,573.3 1747.5,569.6 1748.5,567.2 1749.5,565.1 1750.5,561.3 1751.5,555.5 1752.5,549.3 1753.5,542.9 1754.5,535.8 1755.5,528.8 1756.5,522.6 1757.5,515.9 1758.5,507.6 1759.5,499.6 1760.5,494.5 1761.5,492.2 1762.5,489.6 1763.5,486.3 1764.5,484.3 1765.5,485.8 1766.5,489.8 1767.5,493.9 1768.5,498.4 1769.5,504.5 1770.5,511.5 1771.5,519.3 1772.5,527.3 1773.5,536.1 1774.5,545.3 1775.5,554.6 1776.5,564.1 1777.5,572.6 1778.5,579.5 1779.5,585.0 1780.5,590.5 1781.5,595.8 1782.5,600.2 1783.5,604.2 1784.5,606.1 1785.5,606.4 1786.5,607.2 1787.5,607.5 1788.5,607.4 1789.5,608.1 1790.5,608.8 1791.5,608.9 1792.5,608.9 1793.5,609.4 1794.5,610.0 1795.5,609.9 1796.5,609.9 1797.5,610.1 1798.5,610.4 1799.5,610.5 1800.5,611.0 1801.5,612.7 1802.5,613.8 1803.5,614.3 1804.5,614.4 1805.5,614.8 1806.5,615.5 1807.5,615.5 1808.5,615.9 1809.5,616.9 1810.5,617.3 1811.5,616.6 1812.5,615.8 1813.5,615.6 1814.5,615.4 1815.5,616.2 1816.5,617.6 1817.5,618.5 1818.5,618.1 1819.5,617.4 1820.5,617.0 1821.5,617.2 1822.5,617.8 1823.5,618.2 1824.5,617.8 1825.5,617.6 1826.5,617.7 1827.5,618.3 1828.5,618.5 1829.5,618.2 1830.5,618.6 1831.5,619.6 1832.5,620.5 1833.5,620.5 1834.5,619.5 1835.5,618.3 1836.5,618.5 1837.5,620.1 1838.5,621.2 1839.5,621.3 1840.5,620.8 1841.5,619.8 1842.5,619.6 1843.5,619.7 1844.5,619.2 1845.5,619.1 1846.5,619.3 1847.5,619.4 1848.5,619.1 1849.5,617.7 1850.5,616.2 1851.5,615.3 1852.5,615.5 1853.5,616.1 1854.5,616.6 1855.5,616.9 1856.5,616.7 1857.5,615.8 1858.5,615.3 1859.5,616.1 1860.5,616.4 1861.5,615.9 1862.5,616.5 1863.5,618.0 1864.5,618.5 1865.5,618.2 1866.5,617.5 1867.5,616.7 1868.5,616.2 1869.5,616.3 1870.5,616.0 1871.5,615.7 1872.5,615.8 1873.5,616.1 1874.5,616.3 1875.5,616.5 1876.5,616.7 1877.5,615.8 1878.5,615.4 1879.5,615.5 1880.5,614.9 1881.5,614.4 1882.5,613.5 1883.5,612.5 1884.5,612.9 1885.5,613.6 1886.5,614.5 1887.5,615.4 1888.5,616.2 1889.5,616.9 1890.5,616.9 1891.5,616.1 1892.5,615.3 1893.5,614.7 1894.5,614.0 1895.5,614.3 1896.5,615.0 1897.5,614.2 1898.5,612.7 1899.5,612.7 1900.5,613.6 1901.5,613.7 1902.5,612.0 1903.5,609.2 1904.5,607.3 1905.5,606.2 1906.5,604.7" stroke="#ff0000" stroke-width="6.0"/>
<path d="M1182.5,493.2 1183.5,494.2 1184.5,495.7 1185.5,497.1 1186.5,497.7 1187.5,497.0 1188.5,495.7 1189.5,495.1 1190.5,495.1 1191.5,494.2 1192.5,491.6 1193.5,488.9 1194.5,488.0 1195.5,487.7 1196.5,485.6 1197.5,483.0 1198.5,481.4 1199.5,480.3 1200.5,479.6 1201.5,479.4 1202.5,479.5 1203.5,479.4 1204.5,478.4 1205.5,471.2 1206.5,460.4 1207.5,458.0 1208.5,457.6 1209.5,458.3 1210.5,458.2 1211.5,455.7 1212.5,453.0 1213.5,451.4 1214.5,449.5 1215.5,446.7 1216.5,443.1 1217.5,438.2 1218.5,432.1 1219.5,425.8 1220.5,419.0 1221.5,411.4 1222.5,403.5 1223.5,393.3 1224.5,380.6 1225.5,367.1 1226.5,353.7 1227.5,339.9 1228.5,325.4 1229.5,311.0 1230.5,297.8 1231.5,284.4 1232.5,269.7 1233.5,254.1 1234.5,239.3 1235.5,225.3 1236.5,212.2 1237.5,200.3 1238.5,190.1 1239.5,180.8 1240.5,172.5 1241.5,165.0 1242.5,158.8 1243.5,153.5 1244.5,149.7 1245.5,148.1 1246.5,147.8 1247.5,148.4 1248.5,150.2 1249.5,153.8 1250.5,158.6 1251.5,163.8 1252.5,171.6 1253.5,186.0 1254.5,197.1 1255.5,208.6 1256.5,220.1 1257.5,229.8 1258.5,238.5 1259.5,248.3 1260.5,259.5 1261.5,272.1 1262.5,286.4 1263.5,301.7 1264.5,315.5 1265.5,326.7 1266.5,338.8 1267.5,354.6 1268.5,377.2 1269.5,392.3 1270.5,401.5 1271.5,408.6 1272.5,414.9 1273.5,420.1 1274.5,423.9 1275.5,427.0 1276.5,430.7 1277.5,435.1 1278.5,439.2 1279.5,442.7 1280.5,445.6 1281.5,448.0 1282.5,450.0 1283.5,451.6 1284.5,453.1 1285.5,454.2 1286.5,455.6 1287.5,456.3 1288.5,454.8 1289.5,452.7 1290.5,451.6 1291.5,449.5 1292.5,447.1 1293.5,445.8 1294.5,444.1 1295.5,441.9 1296.5,439.9 1297.5,438.8 1298.5,438.7 1299.5,438.8 1300.5,438.8 1301.5,439.8 1302.5,440.8 1303.5,440.9 1304.5,441.5 1305.5,441.7 1306.5,441.3 1307.5,441.4 1308.5,442.0 1309.5,442.1 1310.5,441.7 1311.5,441.5 1312.5,441.5 1313.5,440.0 1314.5,436.7 1315.5,432.8 1316.5,429.9 1317.5,428.5 1318.5,426.7 1319.5,424.9 1320.5,423.4 1321.5,421.9 1322.5,421.3 1323.5,421.5 1324.5,421.3 1325.5,420.5 1326.5,418.9 1327.5,418.0 1328.5,418.6 1329.5,417.9 1330.5,416.2 1331.5,415.1 1332.5,411.8 1333.5,406.9 1334.5,402.4 1335.5,398.6 1336.5,394.8 1337.5,390.2 1338.5,385.1 1339.5,380.5 1340.5,376.5 1341.5,374.1 1342.5,374.5 1343.5,375.7 1344.5,376.1 1345.5,376.2 1346.5,377.4 1347.5,379.4 1348.5,381.5 1349.5,384.3 1350.5,388.7 1351.5,394.1 1352.5,397.9 1353.5,400.6 1354.5,404.7 1355.5,408.2 1356.5,410.1 1357.5,412.4 1358.5,414.2 1359.5,414.6 1360.5,414.0 1361.5,413.2 1362.5,413.1 1363.5,413.3 1364.5,412.0 1365.5,409.3 1366.5,407.8 1367.5,406.9 1368.5,404.2 1369.5,401.5 1370.5,399.9 1371.5,398.3 1372.5,395.4 1373.5,391.1 1374.5,386.5 1375.5,382.9 1376.5,379.9 1377.5,376.8 1378.5,373.0 1379.5,369.4 1380.5,367.5 1381.5,366.3 1382.5,364.0 1383.5,362.3 1384.5,362.9 1385.5,364.3 1386.5,365.0 1387.5,365.0 1388.5,365.7 1389.5,366.2 1390.5,366.3 1391.5,368.2 1392.5,370.9 1393.5,371.5 1394.5,368.1 1395.5,363.0 1396.5,358.1 1397.5,354.5 1398.5,352.0 1399.5,350.7 1400.5,351.3 1401.5,353.0 1402.5,354.7 1403.5,355.2 1404.5,355.8 1405.5,356.1 1406.5,355.5 1407.5,354.5 1408.5,353.5 1409.5,353.7 1410.5,353.5 1411.5,352.1 1412.5,352.3 1413.5,353.1 1414.5,352.5 1415.5,349.0 1416.5,343.9 1417.5,338.5 1418.5,333.4 1419.5,327.7 1420.5,321.0 1421.5,314.5 1422.5,308.8 1423.5,303.0 1424.5,296.2 1425.5,288.8 1426.5,281.2 1427.5,273.8 1428.5,267.5 1429.5,262.2 1430.5,257.0 1431.5,251.9 1432.5,248.0 1433.5,245.6 1434.5,243.9 1435.5,242.5 1436.5,241.9 1437.5,242.5 1438.5,245.1 1439.5,249.1 1440.5,253.5 1441.5,260.4 1442.5,268.8 1443.5,277.1 1444.5,285.6 1445.5,294.6 1446.5,303.6 1447.5,312.7 1448.5,321.1 1449.5,328.5 1450.5,336.8 1451.5,346.6 1452.5,355.7 1453.5,363.8 1454.5,371.5 1455.5,380.3 1456.5,389.7 1457.5,403.5 1458.5,417.5 1459.5,423.6 1460.5,427.7 1461.5,430.7 1462.5,433.6 1463.5,436.8 1464.5,439.3 1465.5,441.3 1466.5,442.7 1467.5,444.3 1468.5,446.9 1469.5,449.2 1470.5,450.8 1471.5,452.2 1472.5,453.4 1473.5,454.6 1474.5,455.1 1475.5,455.4 1476.5,456.6 1477.5,458.5 1478.5,459.8 1479.5,460.0 1480.5,460.8 1481.5,462.5 1482.5,463.8 1483.5,465.0 1484.5,465.4 1485.5,465.6 1486.5,466.6 1487.5,468.3 1488.5,469.4 1489.5,470.1 1490.5,471.1 1491.5,471.3 1492.5,469.8 1493.5,468.0 1494.5,467.1 1495.5,466.8 1496.5,466.8 1497.5,466.6 1498.5,466.4 1499.5,465.8 1500.5,464.6 1501.5,465.0 1502.5,466.6 1503.5,466.7 1504.5,465.8 1505.5,465.7 1506.5,466.5 1507.5,467.3 1508.5,467.8 1509.5,468.3 1510.5,468.6 1511.5,467.7 1512.5,466.1 1513.5,464.5 1514.5,463.1 1515.5,461.7 1516.5,460.5 1517.5,459.3 1518.5,459.3 1519.5,459.9 1520.5,459.5 1521.5,459.2 1522.5,458.9 1523.5,458.0 1524.5,456.1 1525.5,453.8 1526.5,452.4 1527.5,451.2 1528.5,449.8 1529.5,448.8 1530.5,448.0 1531.5,447.8 1532.5,448.4 1533.5,448.4 1534.5,447.7 1535.5,447.2 1536.5,447.1 1537.5,447.2 1538.5,447.2 1539.5,447.2 1540.5,447.3 1541.5,447.5 1542.5,447.5 1543.5,446.8 1544.5,445.8 1545.5,445.5 1546.5,445.6 1547.5,445.2 1548.5,443.7 1549.5,441.7 1550.5,441.5 1551.5,443.1 1552.5,444.3 1553.5,444.4 1554.5,443.4 1555.5,441.7 1556.5,439.8 1557.5,438.5 1558.5,438.0 1559.5,437.4 1560.5,437.0 1561.5,436.6 1562.5,436.2 1563.5,435.6 1564.5,434.3 1565.5,433.0 1566.5,432.2 1567.5,432.1 1568.5,431.8 1569.5,430.5 1570.5,429.0 1571.5,427.1 1572.5,424.4 1573.5,419.3 1574.5,412.7 1575.5,407.3 1576.5,403.6 1577.5,401.3 1578.5,399.5 1579.5,398.4 1580.5,397.8 1581.5,397.5 1582.5,397.5 1583.5,396.4 1584.5,395.8 1585.5,396.7 1586.5,396.9 1587.5,396.2 1588.5,395.5 1589.5,395.1 1590.5,395.7 1591.5,397.2 1592.5,398.5 1593.5,399.3 1594.5,399.5 1595.5,400.1 1596.5,402.1 1597.5,404.7 1598.5,406.5 1599.5,407.2 1600.5,408.6 1601.5,410.8 1602.5,412.2 1603.5,412.5 1604.5,412.6 1605.5,413.6 1606.5,415.0 1607.5,416.0 1608.5,417.2 1609.5,419.2 1610.5,420.4 1611.5,420.6 1612.5,420.8 1613.5,422.0 1614.5,423.1 1615.5,423.2 1616.5,424.1 1617.5,425.0 1618.5,425.4 1619.5,425.9 1620.5,426.6 1621.5,427.4 1622.5,427.8 1623.5,428.4 1624.5,429.2 1625.5,429.2 1626.5,428.2 1627.5,426.9 1628.5,426.6 1629.5,427.2 1630.5,427.1 1631.5,426.0 1632.5,424.8 1633.5,423.4 1634.5,422.3 1635.5,421.5 1636.5,421.0 1637.5,419.9 1638.5,419.0 1639.5,418.8 1640.5,418.1 1641.5,416.3 1642.5,415.5 1643.5,415.7 1644.5,416.1 1645.5,416.7 1646.5,416.6 1647.5,416.8 1648.5,417.9 1649.5,419.2 1650.5,419.8 1651.5,422.4 1652.5,427.3 1653.5,431.7 1654.5,434.3 1655.5,436.5 1656.5,437.4 1657.5,437.6 1658.5,438.8 1659.5,447.0 1660.5,452.3 1661.5,452.7 1662.5,453.2 1663.5,453.5 1664.5,454.0 1665.5,454.5 1666.5,454.9 1667.5,455.4 1668.5,455.8 1669.5,456.1 1670.5,455.8 1671.5,454.6 1672.5,454.7 1673.5,456.6 1674.5,458.5 1675.5,459.5 1676.5,459.5 1677.5,459.0 1678.5,459.1 1679.5,460.6 1680.5,462.2 1681.5,463.6 1682.5,465.9 1683.5,468.8 1684.5,470.6 1685.5,471.7 1686.5,474.0 1687.5,476.5 1688.5,478.1 1689.5,479.5 1690.5,480.4 1691.5,480.7 1692.5,481.1 1693.5,480.9 1694.5,480.9 1695.5,481.6 1696.5,481.7 1697.5,480.1 1698.5,479.1 1699.5,480.2 1700.5,481.8 1701.5,481.8 1702.5,480.2 1703.5,476.9 1704.5,472.9 1705.5,469.8 1706.5,467.4 1707.5,463.7 1708.5,459.2 1709.5,455.8 1710.5,453.2 1711.5,450.8 1712.5,448.5 1713.5,446.3 1714.5,444.0 1715.5,441.4 1716.5,438.4 1717.5,435.0 1718.5,433.0 1719.5,432.0 1720.5,430.1 1721.5,427.4 1722.5,425.0 1723.5,424.6 1724.5,426.0 1725.5,426.7 1726.5,426.4 1727.5,426.0 1728.5,426.6 1729.5,429.5 1730.5,433.2 1731.5,436.1 1732.5,438.0 1733.5,439.8 1734.5,442.6 1735.5,446.7 1736.5,450.0 1737.5,452.1 1738.5,454.2 1739.5,455.7 1740.5,456.2 1741.5,457.1 1742.5,459.3 1743.5,461.0 1744.5,460.8 1745.5,459.7 1746.5,458.5 1747.5,458.1 1748.5,456.2 1749.5,452.7 1750.5,448.6 1751.5,444.0 1752.5,439.0 1753.5,433.5 1754.5,427.2 1755.5,419.5 1756.5,410.9 1757.5,401.2 1758.5,391.1 1759.5,382.6 1760.5,374.5 1761.5,367.9 1762.5,364.3 1763.5,363.0 1764.5,363.2 1765.5,364.3 1766.5,365.9 1767.5,367.9 1768.5,371.4 1769.5,377.6 1770.5,386.2 1771.5,394.9 1772.5,403.2 1773.5,412.9 1774.5,423.0 1775.5,432.7 1776.5,442.5 1777.5,452.7 1778.5,462.2 1779.5,470.8 1780.5,476.9 1781.5,481.5 1782.5,485.2 1783.5,487.2 1784.5,488.2 1785.5,488.6 1786.5,488.8 1787.5,489.1 1788.5,489.9 1789.5,490.7 1790.5,491.5 1791.5,492.9 1792.5,493.3 1793.5,492.9 1794.5,493.6 1795.5,494.5 1796.5,495.8 1797.5,497.1 1798.5,497.2 1799.5,496.3 1800.5,495.3 1801.5,494.9 1802.5,495.8 1803.5,496.5 1804.5,497.1 1805.5,498.1 1806.5,499.5 1807.5,500.4 1808.5,500.5 1809.5,500.0 1810.5,499.4 1811.5,499.4 1812.5,499.4 1813.5,499.4 1814.5,500.0 1815.5,499.5 1816.5,499.7 1817.5,501.5 1818.5,502.0 1819.5,501.0 1820.5,501.4 1821.5,502.6 1822.5,501.4 1823.5,499.9 1824.5,500.9 1825.5,502.8 1826.5,503.4 1827.5,503.4 1828.5,503.6 1829.5,503.0 1830.5,501.9 1831.5,501.4 1832.5,501.8 1833.5,502.3 1834.5,503.4 1835.5,504.7 1836.5,504.7 1837.5,504.2 1838.5,504.4 1839.5,504.8 1840.5,504.6 1841.5,504.0 1842.5,504.8 1843.5,506.0 1844.5,505.5 1845.5,504.1 1846.5,503.0 1847.5,502.7 1848.5,503.9 1849.5,505.3 1850.5,504.9 1851.5,503.9 1852.5,503.7 1853.5,503.8 1854.5,503.7 1855.5,503.2 1856.5,503.2 1857.5,503.9 1858.5,503.9 1859.5,502.7 1860.5,502.1 1861.5,501.7 1862.5,500.6 1863.5,500.1 1864.5,500.3 1865.5,500.4 1866.5,500.0 1867.5,499.6 1868.5,499.4 1869.5,498.5 1870.5,497.7 1871.5,498.1 1872.5,499.2 1873.5,499.7 1874.5,500.7 1875.5,501.7 1876.5,501.7 1877.5,501.1 1878.5,500.8 1879.5,500.8 1880.5,500.6 1881.5,500.9 1882.5,501.9 1883.5,502.5 1884.5,503.2 1885.5,503.0 1886.5,502.5 1887.5,502.7 1888.5,502.3 1889.5,500.8 1890.5,499.8 1891.5,499.8 1892.5,500.3 1893.5,500.2 1894.5,499.3 1895.5,498.3 1896.5,498.3 1897.5,498.9 1898.5,498.5 1899.5,496.8 1900.5,495.5 1901.5,495.4 1902.5,495.2 1903.5,495.0 1904.5,494.7 1905.5,493.0 1906.5,490.8" stroke="#ff0000" stroke-width="6.0"/>
<path d="M1182.5,336.1 1183.5,336.2 1184.5,335.3 1185.5,336.3 1186.5,338.1 1187.5,338.9 1188.5,338.1 1189.5,334.5 1190.5,330.1 1191.5,326.2 1192.5,330.5 1193.5,332.8 1194.5,334.0 1195.5,335.2 1196.5,335.8 1197.5,336.1 1198.5,335.6 1199.5,333.8 1200.5,331.4 1201.5,329.2 1202.5,326.9 1203.5,325.4 1204.5,324.7 1205.5,323.3 1206.5,321.1 1207.5,319.7 1208.5,319.2 1209.5,318.4 1210.5,317.4 1211.5,315.5 1212.5,312.9 1213.5,310.4 1214.5,307.7 1215.5,304.7 1216.5,301.3 1217.5,297.0 1218.5,292.3 1219.5,287.9 1220.5,283.4 1221.5,278.1 1222.5,272.9 1223.5,267.4 1224.5,260.3 1225.5,252.7 1226.5,245.3 1227.5,236.3 1228.5,225.4 1229.5,214.2 1230.5,202.8 1231.5,191.5 1232.5,181.3 1233.5,170.8 1234.5,159.8 1235.5,148.3 1236.5,135.9 1237.5,123.8 1238.5,114.1 1239.5,105.1 1240.5,101.7 1241.5,101.1 1242.5,100.0 1243.5,97.7 1244.5,96.1 1245.5,94.9 1246.5,93.3 1247.5,92.3 1248.5,92.4 1249.5,94.1 1250.5,95.8 1251.5,97.4 1252.5,100.2 1253.5,104.0 1254.5,108.5 1255.5,113.2 1256.5,118.2 1257.5,123.8 1258.5,129.2 1259.5,134.7 1260.5,141.1 1261.5,148.9 1262.5,160.8 1263.5,174.6 1264.5,186.4 1265.5,196.7 1266.5,208.5 1267.5,221.3 1268.5,231.8 1269.5,240.7 1270.5,248.4 1271.5,256.4 1272.5,264.4 1273.5,271.8 1274.5,278.7 1275.5,285.1 1276.5,289.5 1277.5,293.0 1278.5,297.5 1279.5,302.1 1280.5,306.0 1281.5,309.5 1282.5,312.2 1283.5,314.1 1284.5,315.7 1285.5,316.6 1286.5,316.2 1287.5,316.7 1288.5,318.0 1289.5,318.5 1290.5,318.7 1291.5,319.4 1292.5,319.5 1293.5,319.2 1294.5,319.8 1295.5,319.5 1296.5,317.4 1297.5,314.2 1298.5,311.4 1299.5,309.0 1300.5,307.2 1301.5,305.2 1302.5,303.1 1303.5,301.0 1304.5,298.9 1305.5,296.3 1306.5,291.8 1307.5,286.2 1308.5,282.8 1309.5,281.6 1310.5,280.5 1311.5,279.4 1312.5,278.1 1313.5,276.7 1314.5,275.1 1315.5,272.5 1316.5,269.3 1317.5,266.5 1318.5,264.6 1319.5,262.7 1320.5,261.1 1321.5,260.5 1322.5,260.1 1323.5,259.3 1324.5,258.5 1325.5,257.8 1326.5,257.1 1327.5,256.9 1328.5,257.1 1329.5,257.4 1330.5,258.5 1331.5,259.9 1332.5,260.3 1333.5,261.5 1334.5,263.4 1335.5,264.0 1336.5,264.7 1337.5,265.3 1338.5,264.7 1339.5,263.9 1340.5,263.9 1341.5,264.6 1342.5,264.2 1343.5,261.9 1344.5,251.8 1345.5,249.3 1346.5,248.9 1347.5,250.5 1348.5,257.2 1349.5,259.2 1350.5,261.5 1351.5,264.2 1352.5,266.5 1353.5,267.3 1354.5,268.5 1355.5,270.9 1356.5,274.0 1357.5,278.6 1358.5,283.6 1359.5,287.3 1360.5,289.0 1361.5,291.0 1362.5,293.0 1363.5,294.5 1364.5,295.8 1365.5,296.2 1366.5,296.2 1367.5,295.6 1368.5,292.4 1369.5,289.4 1370.5,287.2 1371.5,286.0 1372.5,285.7 1373.5,286.4 1374.5,286.7 1375.5,286.2 1376.5,285.8 1377.5,285.3 1378.5,283.2 1379.5,280.4 1380.5,278.3 1381.5,276.1 1382.5,273.6 1383.5,271.3 1384.5,268.9 1385.5,266.3 1386.5,263.0 1387.5,260.1 1388.5,258.7 1389.5,258.5 1390.5,258.2 1391.5,257.3 1392.5,255.9 1393.5,253.7 1394.5,250.1 1395.5,245.0 1396.5,240.0 1397.5,235.1 1398.5,229.8 1399.5,225.0 1400.5,221.6 1401.5,217.5 1402.5,213.4 1403.5,210.9 1404.5,209.1 1405.5,207.3 1406.5,205.9 1407.5,203.4 1408.5,199.5 1409.5,195.8 1410.5,192.5 1411.5,188.8 1412.5,184.8 1413.5,180.9 1414.5,177.8 1415.5,175.1 1416.5,171.2 1417.5,166.0 1418.5,161.2 1419.5,156.7 1420.5,150.7 1421.5,143.3 1422.5,136.2 1423.5,129.1 1424.5,122.3 1425.5,116.0 1426.5,110.1 1427.5,106.3 1428.5,105.4 1429.5,104.3 1430.5,102.3 1431.5,99.9 1432.5,98.3 1433.5,99.0 1434.5,101.2 1435.5,103.2 1436.5,106.2 1437.5,110.7 1438.5,116.9 1439.5,126.8 1440.5,137.6 1441.5,148.0 1442.5,158.7 1443.5,169.1 1444.5,179.4 1445.5,189.0 1446.5,198.0 1447.5,207.5 1448.5,217.5 1449.5,228.4 1450.5,239.9 1451.5,250.1 1452.5,259.2 1453.5,266.0 1454.5,270.6 1455.5,275.1 1456.5,279.5 1457.5,283.5 1458.5,285.7 1459.5,286.2 1460.5,287.3 1461.5,289.1 1462.5,290.9 1463.5,292.6 1464.5,293.1 1465.5,293.2 1466.5,294.0 1467.5,295.5 1468.5,296.4 1469.5,296.8 1470.5,296.4 1471.5,295.7 1472.5,296.2 1473.5,298.2 1474.5,300.4 1475.5,302.0 1476.5,303.6 1477.5,305.4 1478.5,307.3 1479.5,309.0 1480.5,309.7 1481.5,310.1 1482.5,311.9 1483.5,314.0 1484.5,315.4 1485.5,317.2 1486.5,318.2 1487.5,317.8 1488.5,317.4 1489.5,317.1 1490.5,317.0 1491.5,316.1 1492.5,315.1 1493.5,314.8 1494.5,314.4 1495.5,314.0 1496.5,313.8 1497.5,313.3 1498.5,313.4 1499.5,314.6 1500.5,316.6 1501.5,318.5 1502.5,320.0 1503.5,320.5 1504.5,321.0 1505.5,320.8 1506.5,319.8 1507.5,318.5 1508.5,318.1 1509.5,318.7 1510.5,319.2 1511.5,318.1 1512.5,317.1 1513.5,318.0 1514.5,318.8 1515.5,317.5 1516.5,315.6 1517.5,315.9 1518.5,316.6 1519.5,316.1 1520.5,314.4 1521.5,312.9 1522.5,312.8 1523.5,313.2 1524.5,313.4 1525.5,313.0 1526.5,312.3 1527.5,311.4 1528.5,310.1 1529.5,309.5 1530.5,309.7 1531.5,309.8 1532.5,309.7 1533.5,309.7 1534.5,308.9 1535.5,307.8 1536.5,307.1 1537.5,306.4 1538.5,305.8 1539.5,306.3 1540.5,307.4 1541.5,307.1 1542.5,306.1 1543.5,306.4 1544.5,306.2 1545.5,305.4 1546.5,305.2 1547.5,304.7 1548.5,302.8 1549.5,300.7 1550.5,298.5 1551.5,295.6 1552.5,293.2 1553.5,292.4 1554.5,292.7 1555.5,292.7 1556.5,291.6 1557.5,291.0 1558.5,291.3 1559.5,291.7 1560.5,291.6 1561.5,291.0 1562.5,289.7 1563.5,287.7 1564.5,284.8 1565.5,281.5 1566.5,279.4 1567.5,279.0 1568.5,278.1 1569.5,275.0 1570.5,271.8 1571.5,270.7 1572.5,269.8 1573.5,267.8 1574.5,266.2 1575.5,264.8 1576.5,262.8 1577.5,261.4 1578.5,260.2 1579.5,258.6 1580.5,257.8 1581.5,257.6 1582.5,256.4 1583.5,256.1 1584.5,258.1 1585.5,259.7 1586.5,259.7 1587.5,259.0 1588.5,258.7 1589.5,259.9 1590.5,262.3 1591.5,263.9 1592.5,264.2 1593.5,264.2 1594.5,264.9 1595.5,266.4 1596.5,268.8 1597.5,271.2 1598.5,272.9 1599.5,274.8 1600.5,277.4 1601.5,279.5 1602.5,281.2 1603.5,282.6 1604.5,283.4 1605.5,283.9 1606.5,285.4 1607.5,286.9 1608.5,288.2 1609.5,289.4 1610.5,290.6 1611.5,291.8 1612.5,292.4 1613.5,292.8 1614.5,293.2 1615.5,293.6 1616.5,294.2 1617.5,294.6 1618.5,294.2 1619.5,293.3 1620.5,292.8 1621.5,293.0 1622.5,292.9 1623.5,292.3 1624.5,292.2 1625.5,292.4 1626.5,292.4 1627.5,292.5 1628.5,292.9 1629.5,292.5 1630.5,291.2 1631.5,289.2 1632.5,288.3 1633.5,288.9 1634.5,290.1 1635.5,290.0 1636.5,289.1 1637.5,289.2 1638.5,289.3 1639.5,288.2 1640.5,288.2 1641.5,289.0 1642.5,289.0 1643.5,288.9 1644.5,290.1 1645.5,290.7 1646.5,290.2 1647.5,289.8 1648.5,290.8 1649.5,293.0 1650.5,295.2 1651.5,297.4 1652.5,300.3 1653.5,303.5 1654.5,306.3 1655.5,308.6 1656.5,310.3 1657.5,312.1 1658.5,314.3 1659.5,315.7 1660.5,317.2 1661.5,318.7 1662.5,319.1 1663.5,319.5 1664.5,320.2 1665.5,320.5 1666.5,320.6 1667.5,321.1 1668.5,321.2 1669.5,320.7 1670.5,320.5 1671.5,319.6 1672.5,317.9 1673.5,316.9 1674.5,318.0 1675.5,320.4 1676.5,321.9 1677.5,322.6 1678.5,323.9 1679.5,324.7 1680.5,324.3 1681.5,324.1 1682.5,325.3 1683.5,327.2 1684.5,329.0 1685.5,330.0 1686.5,330.3 1687.5,330.9 1688.5,331.8 1689.5,332.8 1690.5,333.8 1691.5,333.3 1692.5,331.3 1693.5,329.1 1694.5,327.4 1695.5,326.1 1696.5,325.0 1697.5,324.2 1698.5,323.4 1699.5,324.0 1700.5,327.0 1701.5,331.7 1702.5,335.6 1703.5,336.2 1704.5,326.2 1705.5,317.0 1706.5,314.1 1707.5,311.8 1708.5,308.6 1709.5,305.6 1710.5,304.0 1711.5,303.2 1712.5,302.1 1713.5,300.9 1714.5,300.1 1715.5,299.5 1716.5,299.3 1717.5,299.3 1718.5,298.9 1719.5,297.2 1720.5,296.8 1721.5,298.1 1722.5,299.0 1723.5,299.6 1724.5,300.4 1725.5,301.5 1726.5,302.6 1727.5,303.7 1728.5,304.5 1729.5,305.1 1730.5,306.2 1731.5,307.6 1732.5,308.9 1733.5,310.6 1734.5,312.3 1735.5,313.2 1736.5,313.6 1737.5,313.6 1738.5,313.9 1739.5,314.2 1740.5,314.0 1741.5,313.6 1742.5,312.5 1743.5,310.3 1744.5,308.2 1745.5,306.3 1746.5,304.4 1747.5,303.5 1748.5,302.6 1749.5,300.8 1750.5,298.8 1751.5,296.7 1752.5,293.9 1753.5,289.7 1754.5,282.4 1755.5,269.4 1756.5,259.7 1757.5,258.4 1758.5,257.7 1759.5,257.1 1760.5,256.3 1761.5,254.6 1762.5,253.2 1763.5,252.6 1764.5,252.6 1765.5,253.4 1766.5,254.7 1767.5,256.3 1768.5,258.8 1769.5,262.3 1770.5,268.3 1771.5,275.4 1772.5,281.2 1773.5,285.4 1774.5,290.6 1775.5,297.1 1776.5,303.1 1777.5,307.4 1778.5,310.6 1779.5,312.3 1780.5,313.4 1781.5,314.8 1782.5,316.4 1783.5,317.5 1784.5,318.7 1785.5,319.7 1786.5,320.4 1787.5,320.3 1788.5,319.7 1789.5,318.6 1790.5,316.7 1791.5,315.4 1792.5,314.9 1793.5,315.1 1794.5,316.0 1795.5,317.5 1796.5,319.4 1797.5,321.3 1798.5,322.7 1799.5,323.0 1800.5,323.1 1801.5,322.8 1802.5,322.1 1803.5,322.3 1804.5,323.5 1805.5,324.4 1806.5,324.4 1807.5,324.7 1808.5,327.7 1809.5,331.6 1810.5,334.5 1811.5,336.4 1812.5,336.9 1813.5,336.7 1814.5,336.0 1815.5,334.4 1816.5,333.6 1817.5,334.3 1818.5,334.7 1819.5,334.3 1820.5,333.9 1821.5,333.3 1822.5,332.5 1823.5,332.0 1824.5,331.2 1825.5,330.2 1826.5,330.1 1827.5,330.3 1828.5,330.4 1829.5,330.9 1830.5,331.2 1831.5,331.7 1832.5,331.4 1833.5,330.0 1834.5,329.9 1835.5,331.0 1836.5,331.9 1837.5,332.8 1838.5,333.4 1839.5,333.1 1840.5,333.0 1841.5,333.0 1842.5,333.5 1843.5,334.9 1844.5,336.5 1845.5,337.8 1846.5,338.9 1847.5,339.7 1848.5,339.7 1849.5,339.3 1850.5,340.0 1851.5,341.1 1852.5,341.4 1853.5,341.0 1854.5,340.7 1855.5,340.1 1856.5,339.6 1857.5,340.3 1858.5,341.1 1859.5,341.2 1860.5,341.4 1861.5,341.3 1862.5,340.6 1863.5,339.9 1864.5,339.9 1865.5,339.9 1866.5,339.3 1867.5,338.6 1868.5,338.9 1869.5,339.8 1870.5,340.2 1871.5,339.4 1872.5,338.3 1873.5,337.5 1874.5,336.5 1875.5,336.2 1876.5,336.9 1877.5,338.0 1878.5,337.8 1879.5,336.9 1880.5,336.5 1881.5,336.6 1882.5,336.4 1883.5,336.5 1884.5,336.5 1885.5,335.9 1886.5,335.1 1887.5,334.8 1888.5,335.5 1889.5,336.4 1890.5,338.0 1891.5,339.8 1892.5,341.3 1893.5,341.6 1894.5,340.6 1895.5,340.8 1896.5,341.4 1897.5,341.8 1898.5,341.5 1899.5,340.6 1900.5,339.5 1901.5,338.7 1902.5,338.0 1903.5,337.2 1904.5,336.8 1905.5,335.9 1906.5,334.9" stroke="#000" stroke-width="6.0"/>
<path d="M1446.2,766.5 1447.0,764.8 1447.7,762.3 1448.4,760.0 1449.1,759.0 1449.8,758.9 1450.5,760.8 1451.2,762.0 1451.9,759.9 1452.6,759.1 1453.3,760.6 1454.0,761.0 1454.7,760.6 1455.4,761.0 1456.1,764.2 1456.8,766.9 1457.5,767.2 1458.2,768.1 1458.9,768.4 1459.6,769.1 1460.3,770.0 1461.0,771.6 1461.7,772.3 1462.4,773.9 1463.1,774.0 1463.8,771.2 1464.5,768.1 1465.2,769.4 1465.9,771.1 1466.6,770.1 1467.3,767.7 1468.0,767.0 1468.7,766.5 1469.4,767.3 1470.1,768.4 1470.8,767.0 1471.5,766.9 1472.2,767.2 1472.9,765.4 1473.6,764.7 1474.3,764.7 1475.0,763.5 1475.7,762.2 1476.4,764.0 1477.1,764.8 1477.8,763.0 1478.5,764.2 1479.2,764.6 1479.9,765.5 1480.6,768.6 1481.3,767.7 1482.0,765.3 1482.7,766.8 1483.4,768.8 1484.1,769.6 1484.8,770.8 1485.5,771.8 1486.2,773.8 1486.9,774.8 1487.6,773.4 1488.3,773.3 1489.0,773.7 1489.7,773.8 1490.4,773.0 1491.1,773.8 1491.8,776.1 1492.5,778.5 1493.2,777.7 1493.9,774.0 1494.6,773.3 1495.3,773.3 1496.0,770.7 1496.7,770.9 1497.4,772.9 1498.1,774.2 1498.8,772.6 1499.5,769.5 1500.2,767.9 1500.9,768.4 1501.6,769.1 1502.3,766.7 1503.0,765.4 1503.7,765.5 1504.4,764.8 1505.1,763.6 1505.8,763.9 1506.5,767.3 1507.2,772.1 1507.9,777.8 1508.6,781.1 1509.3,782.7 1510.0,783.5 1510.7,783.4 1511.4,783.9 1512.1,783.1 1512.8,781.4 1513.5,779.2 1514.2,778.0 1514.9,774.9 1515.6,773.4 1516.3,774.8 1517.0,775.7 1517.7,778.0 1518.4,779.2 1519.1,775.4 1519.8,773.5 1520.5,774.5 1521.2,774.8 1521.9,773.9 1522.6,774.0 1523.3,775.2 1524.0,774.5 1524.7,772.7 1525.4,773.1 1526.1,773.4 1526.8,773.1 1527.5,774.0 1528.2,775.0 1528.9,777.0 1529.6,777.4 1530.3,776.6 1531.0,776.0 1531.7,775.1 1532.4,773.6 1533.1,775.1 1533.8,776.9 1534.5,776.8 1535.2,778.5 1535.9,778.9 1536.6,780.6 1537.3,781.6 1538.0,783.1 1538.7,782.5 1539.4,782.1 1540.1,785.9 1540.8,787.6 1541.5,785.7 1542.2,784.4 1542.9,784.2 1543.6,785.0 1544.3,787.0 1545.0,786.6 1545.7,786.1 1546.4,785.6 1547.1,785.4 1547.8,786.9 1548.5,790.2 1549.2,791.2 1549.9,791.7 1550.6,790.8 1551.3,789.6 1552.0,789.8 1552.7,790.5 1553.4,791.5 1554.1,791.7 1554.8,791.1 1555.5,790.4 1556.2,792.8 1556.9,795.8 1557.6,794.2 1558.3,793.5 1559.0,796.4 1559.7,797.4 1560.4,794.9 1561.1,794.5 1561.8,794.3 1562.5,794.6 1563.2,797.7 1563.9,798.8 1564.6,798.4 1565.3,798.3 1566.0,799.3 1566.7,799.1 1567.4,798.5 1568.1,797.5 1568.8,798.8 1569.5,801.8 1570.2,801.6 1570.9,801.4 1571.6,800.9 1572.3,799.5 1573.0,799.0 1573.7,798.9 1574.4,796.9 1575.1,795.2 1575.8,795.0 1576.5,795.2 1577.2,793.8 1577.9,791.2 1578.6,788.3 1579.3,788.3 1580.0,792.3 1580.7,794.8 1581.4,795.5 1582.1,797.8 1582.8,800.6 1583.5,802.5 1584.2,802.9 1584.9,802.6 1585.6,802.6 1586.3,800.9 1587.0,801.7 1587.7,802.6 1588.4,803.4 1589.1,804.1 1589.8,801.2 1590.5,795.2 1591.2,793.0 1591.9,794.2 1592.6,793.1 1593.3,793.1 1594.0,792.1 1594.7,787.5 1595.4,785.8 1596.1,788.3 1596.8,789.0 1597.5,788.1 1598.2,787.0 1598.9,784.8 1599.6,783.8 1600.3,784.7 1601.0,784.3 1601.7,784.8 1602.4,788.0 1603.1,789.8 1603.8,790.0 1604.5,789.1 1605.2,789.1 1605.9,789.8 1606.6,791.4 1607.3,793.4 1608.0,794.4 1608.7,796.3 1609.4,798.6 1610.1,799.0 1610.8,794.1 1611.5,789.2 1612.2,782.7 1612.9,775.2 1613.6,770.0 1614.3,770.5 1615.0,771.9 1615.7,771.1 1616.4,770.1 1617.1,770.2 1617.8,770.7 1618.5,767.8 1619.2,763.9 1619.9,762.9 1620.6,760.7 1621.3,759.9 1622.0,764.6 1622.7,768.7 1623.4,767.0 1624.1,764.1 1624.8,764.7 1625.5,767.2 1626.2,766.9 1626.9,765.6 1627.6,765.1 1628.3,765.5 1629.0,766.3 1629.7,765.8 1630.4,763.8 1631.1,762.2 1631.8,762.6 1632.5,762.7 1633.2,762.6 1633.9,760.6 1634.6,760.3 1635.3,760.1 1636.0,760.3 1636.7,763.6 1637.4,763.7 1638.1,761.1 1638.8,760.4 1639.5,757.8 1640.2,754.4 1640.9,756.0 1641.6,757.1 1642.3,755.9 1643.0,754.0 1643.7,754.0 1644.4,755.0 1645.1,755.9 1645.8,753.8 1646.5,751.2 1647.2,748.5 1647.9,743.0 1648.6,738.0 1649.3,736.3 1650.0,739.6 1650.7,742.9 1651.4,746.7 1652.1,751.1 1652.8,755.1 1653.5,757.4 1654.2,756.5 1654.9,753.0 1655.6,749.4 1656.3,745.9 1657.0,740.9 1657.7,737.6 1658.4,739.2 1659.1,746.0 1659.8,755.5 1660.5,761.0 1661.2,762.6 1661.9,761.9 1662.6,762.2 1663.3,764.8 1664.0,766.9 1664.7,766.5 1665.4,766.4 1666.1,767.0 1666.8,766.7 1667.5,765.6 1668.2,766.5 1668.9,768.2 1669.6,769.9 1670.3,770.1 1671.0,772.2 1671.7,773.5 1672.4,771.5 1673.1,770.6 1673.8,771.6 1674.5,771.5 1675.2,771.4 1675.9,774.4 1676.6,776.6 1677.3,774.4 1678.0,772.4 1678.7,772.1 1679.4,772.9 1680.1,772.2 1680.8,774.1 1681.5,778.2 1682.2,780.5 1682.9,785.0 1683.6,788.9 1684.3,790.3 1685.0,793.2 1685.7,796.0 1686.4,794.6 1687.1,792.6 1687.8,792.1 1688.5,792.8 1689.2,792.1 1689.9,786.8 1690.6,779.9 1691.3,777.4 1692.0,778.5 1692.7,779.9 1693.4,780.3 1694.1,780.8 1694.8,781.0 1695.5,780.5 1696.2,780.9 1696.9,781.6 1697.6,782.3 1698.3,784.5 1699.0,786.5 1699.7,785.2 1700.4,782.3 1701.1,780.5 1701.8,780.9 1702.5,779.5 1703.2,780.9 1703.9,785.2 1704.6,786.3 1705.3,784.0 1706.0,781.9 1706.7,782.9 1707.4,785.0 1708.1,788.7 1708.8,791.0 1709.5,788.4 1710.2,785.1 1710.9,784.5 1711.6,786.1 1712.3,786.4 1713.0,785.9 1713.7,786.7 1714.4,787.8 1715.1,791.0 1715.8,792.9 1716.5,792.2 1717.2,790.6 1717.9,790.6 1718.6,790.2 1719.3,789.5 1720.0,788.7 1720.7,787.4 1721.4,788.4 1722.1,791.6 1722.8,792.5 1723.5,793.2 1724.2,792.8 1724.9,790.0 1725.6,790.5 1726.3,793.1 1727.0,794.2 1727.7,794.6 1728.4,795.8 1729.1,794.6 1729.8,792.3 1730.5,793.3 1731.2,796.2 1731.9,795.8 1732.6,794.7 1733.3,798.1 1734.0,800.2 1734.7,800.1 1735.4,798.1 1736.1,796.8 1736.8,798.6 1737.5,802.6 1738.2,802.7 1738.9,802.4 1739.6,800.7 1740.3,799.3 1741.0,798.3 1741.7,800.5 1742.4,802.6 1743.1,802.5 1743.8,804.6 1744.5,804.7 1745.2,803.1 1745.9,803.6 1746.6,805.1 1747.3,806.3 1748.0,806.5 1748.7,806.8 1749.4,807.5 1750.1,807.4 1750.8,808.2 1751.5,811.3 1752.2,812.6 1752.9,811.1 1753.6,811.5 1754.3,811.6 1755.0,812.2 1755.7,813.5 1756.4,812.6 1757.1,810.8 1757.8,806.4 1758.5,802.6 1759.2,798.5 1759.9,794.9 1760.6,793.2 1761.3,791.3 1762.0,790.0 1762.7,788.2 1763.4,786.8 1764.1,787.9 1764.8,789.6 1765.5,790.1 1766.2,788.4 1766.9,787.4 1767.6,787.1 1768.3,788.6 1769.0,787.3 1769.7,786.8 1770.4,790.1 1771.1,791.6 1771.8,789.0 1772.5,788.2 1773.2,789.1 1773.9,790.3 1774.6,791.9 1775.3,791.7 1776.0,792.3 1776.7,793.7 1777.4,793.7 1778.1,793.7 1778.8,792.0 1779.5,790.5 1780.2,792.2 1780.9,796.4 1781.6,796.3 1782.3,795.7 1783.0,795.7 1783.7,796.1 1784.4,797.4 1785.1,798.0 1785.8,794.2 1786.5,791.4 1787.2,791.6 1787.9,793.3 1788.6,796.7 1789.3,797.1 1790.0,794.0 1790.7,792.8 1791.4,795.2 1792.1,795.8 1792.8,792.8 1793.5,794.0 1794.2,795.2 1794.9,796.0 1795.6,794.5 1796.3,793.1 1797.0,792.0 1797.7,793.8 1798.4,797.5 1799.1,797.3 1799.8,794.2 1800.5,791.2 1801.2,790.0 1801.9,791.8 1802.6,793.3 1803.3,793.3 1804.0,792.3 1804.7,791.1 1805.4,792.0 1806.1,793.8 1806.8,796.3 1807.5,796.4 1808.2,792.8 1808.9,790.3 1809.6,790.1 1810.3,789.4 1811.0,789.0 1811.7,789.2 1812.4,789.2 1813.1,790.6 1813.8,790.8 1814.5,790.4 1815.2,789.3 1815.9,787.8 1816.6,787.4 1817.3,788.2 1818.0,789.0 1818.7,790.5 1819.4,790.8 1820.1,790.9 1820.8,792.6 1821.5,793.7 1822.2,795.7 1822.9,796.9 1823.6,797.4 1824.3,800.5 1825.0,802.4 1825.7,801.9 1826.4,801.1 1827.1,800.3 1827.8,799.7 1828.5,800.0 1829.2,800.2 1829.9,799.9 1830.6,799.1 1831.3,800.1 1832.0,800.5 1832.7,799.5 1833.4,799.0 1834.1,798.3 1834.8,796.8 1835.5,798.1 1836.2,799.1 1836.9,798.8 1837.6,797.8 1838.3,796.2 1839.0,796.5 1839.7,797.9 1840.4,797.8 1841.1,795.9 1841.8,794.5 1842.5,797.0 1843.2,799.6 1843.9,799.6 1844.6,797.4 1845.3,796.3 1846.0,798.5 1846.7,797.7 1847.4,796.1 1848.1,798.3 1848.8,798.4 1849.5,799.1 1850.2,802.4 1850.9,805.6 1851.6,805.6 1852.3,807.0 1853.0,809.6 1853.7,808.6 1854.4,804.6 1855.1,800.8 1855.8,798.0 1856.5,797.7 1857.2,798.6 1857.9,798.2 1858.6,797.4 1859.3,796.5 1860.0,794.6 1860.7,795.1 1861.4,796.8 1862.1,797.7 1862.8,797.9 1863.5,796.6 1864.2,795.3 1864.9,794.6 1865.6,792.5 1866.3,792.2 1867.0,795.0 1867.7,795.9 1868.4,794.7 1869.1,792.7 1869.8,793.2 1870.5,793.4 1871.2,792.0 1871.9,791.3 1872.6,794.5 1873.3,797.8 1874.0,797.5 1874.7,796.2 1875.4,796.7 1876.1,795.7 1876.8,792.8 1877.5,795.2 1878.2,798.6 1878.9,800.7 1879.6,802.2 1880.3,801.4 1881.0,799.7 1881.7,799.3 1882.4,799.0 1883.1,797.7 1883.8,798.5 1884.5,801.2 1885.2,802.1 1885.9,799.7 1886.6,798.5 1887.3,799.8 1888.0,801.0 1888.7,800.8 1889.4,800.3 1890.1,798.0 1890.8,797.5 1891.5,798.9 1892.2,800.7 1892.9,799.9 1893.6,796.5 1894.3,796.3 1895.0,797.9 1895.7,796.9 1896.4,796.9 1897.1,800.1 1897.8,801.3 1898.5,800.4 1899.2,800.0 1899.9,800.8 1900.6,800.8 1901.3,800.5 1902.0,798.2 1902.7,797.6 1903.4,798.7 1904.1,799.3 1904.8,800.6 1905.5,800.1 1906.2,798.7 1906.5,799.3" stroke="#008000" stroke-width="5.6"/>
<path d="M1447.5,858.1 1448.2,856.4 1448.9,854.8 1449.6,852.8 1450.3,850.0 1451.0,849.6 1451.7,850.0 1452.4,851.7 1453.1,852.9 1453.8,852.7 1454.5,851.0 1455.2,849.6 1455.9,850.3 1456.6,850.0 1457.3,847.9 1458.0,847.6 1458.7,848.0 1459.4,848.0 1460.1,845.7 1460.8,845.1 1461.5,845.8 1462.2,844.5 1462.9,842.7 1463.6,843.5 1464.3,843.6 1465.0,842.9 1465.7,842.4 1466.4,841.3 1467.1,840.3 1467.8,841.4 1468.5,838.6 1469.2,836.2 1469.9,838.8 1470.6,841.0 1471.3,840.5 1472.0,841.6 1472.7,840.6 1473.4,835.3 1474.1,831.7 1474.8,833.6 1475.5,836.4 1476.2,834.5 1476.9,832.2 1477.6,832.8 1478.3,835.1 1479.0,837.1 1479.7,838.7 1480.4,838.4 1481.1,836.4 1481.8,835.8 1482.5,835.9 1483.2,836.6 1483.9,836.3 1484.6,838.3 1485.3,842.3 1486.0,842.9 1486.7,844.3 1487.4,846.6 1488.1,845.1 1488.8,843.0 1489.5,842.3 1490.2,842.7 1490.9,844.4 1491.6,845.2 1492.3,846.1 1493.0,844.3 1493.7,843.0 1494.4,843.5 1495.1,845.0 1495.8,845.9 1496.5,846.2 1497.2,844.9 1497.9,846.0 1498.6,847.5 1499.3,846.1 1500.0,846.6 1500.7,847.7 1501.4,846.0 1502.1,842.7 1502.8,842.8 1503.5,847.3 1504.2,848.2 1504.9,847.4 1505.6,847.4 1506.3,849.9 1507.0,850.9 1507.7,850.7 1508.4,851.6 1509.1,853.6 1509.8,854.0 1510.5,852.9 1511.2,851.7 1511.9,852.6 1512.6,853.2 1513.3,852.5 1514.0,853.6 1514.7,854.3 1515.4,852.7 1516.1,851.2 1516.8,851.4 1517.5,851.5 1518.2,849.3 1518.9,848.9 1519.6,849.3 1520.3,849.5 1521.0,848.5 1521.7,848.6 1522.4,850.6 1523.1,848.4 1523.8,844.8 1524.5,844.5 1525.2,846.1 1525.9,846.0 1526.6,844.5 1527.3,844.4 1528.0,843.0 1528.7,843.7 1529.4,847.0 1530.1,848.3 1530.8,847.0 1531.5,848.1 1532.2,850.8 1532.9,852.0 1533.6,854.8 1534.3,858.0 1535.0,859.6 1535.7,858.9 1536.4,858.3 1537.1,858.2 1537.8,857.6 1538.5,858.3 1539.2,857.3 1539.9,856.5 1540.6,857.5 1541.3,859.1 1542.0,860.0 1542.7,859.9 1543.4,860.9 1544.1,861.1 1544.8,859.3 1545.5,858.6 1546.2,860.3 1546.9,859.1 1547.6,856.2 1548.3,857.1 1549.0,859.0 1549.7,858.7 1550.4,858.9 1551.1,860.3 1551.8,863.8 1552.5,866.4 1553.2,868.4 1553.9,870.2 1554.6,869.9 1555.3,871.5 1556.0,874.5 1556.7,874.8 1557.4,876.8 1558.1,879.1 1558.8,884.3 1559.5,889.5 1560.2,890.2 1560.9,891.4 1561.6,894.6 1562.3,893.3 1563.0,892.1 1563.7,891.8 1564.4,891.6 1565.1,894.5 1565.8,896.4 1566.5,895.2 1567.2,893.5 1567.9,892.6 1568.6,890.8 1569.3,887.5 1570.0,889.1 1570.7,890.0 1571.4,888.8 1572.1,890.3 1572.8,891.1 1573.5,890.7 1574.2,890.5 1574.9,890.1 1575.6,888.1 1576.3,885.2 1577.0,884.3 1577.7,883.8 1578.4,883.0 1579.1,882.8 1579.8,884.8 1580.5,886.8 1581.2,887.8 1581.9,888.1 1582.6,886.2 1583.3,882.6 1584.0,881.0 1584.7,881.8 1585.4,883.0 1586.1,883.7 1586.8,885.4 1587.5,885.7 1588.2,884.0 1588.9,883.4 1589.6,881.5 1590.3,879.1 1591.0,878.6 1591.7,878.6 1592.4,878.2 1593.1,880.5 1593.8,880.9 1594.5,877.5 1595.2,877.2 1595.9,878.6 1596.6,877.1 1597.3,874.9 1598.0,874.2 1598.7,874.6 1599.4,872.8 1600.1,869.0 1600.8,871.1 1601.5,881.2 1602.2,892.7 1602.9,895.6 1603.6,894.2 1604.3,888.2 1605.0,880.5 1605.7,876.1 1606.4,871.7 1607.1,865.7 1607.8,864.0 1608.5,863.3 1609.2,858.6 1609.9,857.1 1610.6,858.4 1611.3,856.4 1612.0,852.4 1612.7,851.2 1613.4,853.5 1614.1,855.0 1614.8,854.2 1615.5,853.5 1616.2,853.3 1616.9,851.4 1617.6,850.6 1618.3,852.5 1619.0,852.2 1619.7,854.2 1620.4,858.5 1621.1,861.7 1621.8,861.3 1622.5,860.2 1623.2,858.7 1623.9,858.4 1624.6,856.4 1625.3,851.6 1626.0,845.8 1626.7,841.9 1627.4,838.5 1628.1,837.2 1628.8,837.4 1629.5,837.2 1630.2,834.6 1630.9,832.3 1631.6,830.0 1632.3,828.6 1633.0,828.0 1633.7,828.4 1634.4,828.1 1635.1,826.3 1635.8,825.7 1636.5,824.4 1637.2,823.8 1637.9,822.6 1638.6,821.7 1639.3,821.9 1640.0,822.8 1640.7,822.2 1641.4,820.8 1642.1,818.3 1642.8,817.5 1643.5,816.6 1644.2,812.1 1644.9,810.1 1645.6,811.3 1646.3,811.9 1647.0,809.5 1647.7,809.2 1648.4,808.9 1649.1,806.3 1649.8,805.9 1650.5,807.4 1651.2,807.0 1651.9,808.7 1652.6,812.8 1653.3,815.4 1654.0,816.8 1654.7,813.6 1655.4,808.3 1656.1,806.2 1656.8,804.3 1657.5,803.3 1658.2,804.9 1658.9,806.1 1659.6,810.4 1660.3,817.3 1661.0,821.3 1661.7,820.4 1662.4,820.7 1663.1,821.1 1663.8,821.2 1664.5,822.3 1665.2,822.9 1665.9,824.4 1666.6,825.4 1667.3,824.4 1668.0,823.8 1668.7,823.8 1669.4,823.6 1670.1,823.2 1670.8,824.4 1671.5,826.7 1672.2,829.4 1672.9,832.5 1673.6,830.4 1674.3,828.5 1675.0,827.4 1675.7,828.3 1676.4,829.8 1677.1,832.1 1677.8,834.1 1678.5,832.9 1679.2,831.9 1679.9,833.1 1680.6,834.3 1681.3,837.7 1682.0,842.2 1682.7,844.6 1683.4,845.8 1684.1,846.3 1684.8,845.5 1685.5,845.0 1686.2,846.6 1686.9,849.0 1687.6,851.4 1688.3,852.3 1689.0,850.9 1689.7,850.3 1690.4,852.7 1691.1,852.4 1691.8,849.7 1692.5,849.0 1693.2,849.1 1693.9,848.3 1694.6,847.9 1695.3,848.3 1696.0,848.2 1696.7,847.3 1697.4,845.6 1698.1,847.3 1698.8,850.9 1699.5,850.8 1700.2,852.1 1700.9,853.3 1701.6,852.2 1702.3,848.6 1703.0,844.8 1703.7,838.9 1704.4,832.5 1705.1,829.8 1705.8,834.0 1706.5,839.9 1707.2,844.7 1707.9,847.6 1708.6,849.3 1709.3,849.4 1710.0,848.4 1710.7,848.3 1711.4,850.1 1712.1,851.6 1712.8,852.4 1713.5,849.8 1714.2,847.8 1714.9,850.4 1715.6,852.2 1716.3,849.8 1717.0,847.5 1717.7,848.1 1718.4,850.0 1719.1,848.6 1719.8,847.4 1720.5,846.7 1721.2,845.2 1721.9,845.0 1722.6,845.2 1723.3,846.9 1724.0,848.9 1724.7,849.3 1725.4,848.5 1726.1,848.6 1726.8,847.4 1727.5,847.1 1728.2,850.0 1728.9,851.6 1729.6,851.2 1730.3,850.8 1731.0,854.8 1731.7,858.6 1732.4,861.1 1733.1,863.1 1733.8,864.9 1734.5,868.2 1735.2,868.7 1735.9,866.6 1736.6,863.9 1737.3,866.8 1738.0,873.6 1738.7,876.8 1739.4,877.8 1740.1,877.8 1740.8,878.9 1741.5,880.1 1742.2,880.5 1742.9,881.0 1743.6,879.6 1744.3,879.4 1745.0,879.7 1745.7,880.5 1746.4,880.1 1747.1,877.8 1747.8,877.7 1748.5,878.1 1749.2,877.7 1749.9,876.0 1750.6,875.0 1751.3,876.2 1752.0,877.3 1752.7,876.3 1753.4,874.6 1754.1,872.7 1754.8,870.4 1755.5,870.8 1756.2,872.3 1756.9,873.2 1757.6,874.8 1758.3,877.9 1759.0,882.1 1759.7,884.9 1760.4,884.1 1761.1,885.3 1761.8,889.0 1762.5,890.3 1763.2,891.3 1763.9,893.9 1764.6,893.4 1765.3,891.8 1766.0,890.6 1766.7,889.9 1767.4,889.7 1768.1,890.1 1768.8,891.6 1769.5,888.7 1770.2,884.3 1770.9,881.9 1771.6,881.7 1772.3,881.0 1773.0,877.7 1773.7,873.8 1774.4,871.6 1775.1,870.9 1775.8,872.8 1776.5,872.2 1777.2,869.6 1777.9,867.2 1778.6,864.7 1779.3,864.0 1780.0,863.9 1780.7,862.3 1781.4,861.0 1782.1,859.7 1782.8,858.6 1783.5,858.2 1784.2,857.8 1784.9,856.3 1785.6,855.3 1786.3,853.4 1787.0,852.4 1787.7,853.0 1788.4,854.4 1789.1,854.6 1789.8,854.3 1790.5,852.7 1791.2,852.1 1791.9,852.1 1792.6,853.3 1793.3,853.0 1794.0,852.9 1794.7,852.1 1795.4,852.2 1796.1,852.6 1796.8,851.5 1797.5,853.4 1798.2,856.9 1798.9,857.2 1799.6,857.4 1800.3,855.9 1801.0,855.1 1801.7,857.7 1802.4,860.4 1803.1,860.4 1803.8,860.4 1804.5,861.0 1805.2,860.5 1805.9,861.1 1806.6,860.3 1807.3,859.3 1808.0,860.9 1808.7,861.1 1809.4,858.9 1810.1,857.4 1810.8,855.8 1811.5,854.9 1812.2,855.3 1812.9,854.4 1813.6,854.2 1814.3,852.8 1815.0,852.1 1815.7,853.7 1816.4,855.3 1817.1,856.0 1817.8,854.4 1818.5,853.6 1819.2,853.9 1819.9,855.3 1820.6,858.5 1821.3,860.4 1822.0,859.4 1822.7,858.5 1823.4,860.5 1824.1,861.9 1824.8,861.9 1825.5,863.2 1826.2,867.9 1826.9,871.1 1827.6,871.9 1828.3,873.8 1829.0,877.1 1829.7,877.8 1830.4,874.0 1831.1,871.2 1831.8,874.3 1832.5,876.4 1833.2,875.9 1833.9,873.6 1834.6,872.3 1835.3,872.5 1836.0,871.5 1836.7,870.4 1837.4,869.2 1838.1,866.3 1838.8,863.4 1839.5,862.9 1840.2,861.3 1840.9,859.9 1841.6,858.2 1842.3,855.3 1843.0,853.5 1843.7,852.1 1844.4,853.2 1845.1,855.0 1845.8,855.2 1846.5,855.6 1847.2,856.5 1847.9,855.7 1848.6,855.9 1849.3,859.4 1850.0,861.4 1850.7,861.9 1851.4,861.3 1852.1,860.9 1852.8,860.2 1853.5,859.9 1854.2,861.9 1854.9,864.5 1855.6,865.5 1856.3,863.4 1857.0,863.8 1857.7,864.9 1858.4,865.1 1859.1,865.5 1859.8,866.4 1860.5,866.0 1861.2,864.4 1861.9,865.5 1862.6,864.9 1863.3,862.4 1864.0,860.6 1864.7,861.2 1865.4,863.1 1866.1,862.9 1866.8,862.9 1867.5,864.2 1868.2,865.1 1868.9,864.4 1869.6,863.5 1870.3,864.1 1871.0,864.7 1871.7,865.5 1872.4,868.4 1873.1,870.5 1873.8,869.8 1874.5,867.4 1875.2,866.0 1875.9,867.1 1876.6,869.9 1877.3,871.6 1878.0,872.7 1878.7,871.1 1879.4,873.1 1880.1,875.9 1880.8,877.2 1881.5,879.5 1882.2,881.0 1882.9,879.6 1883.6,878.3 1884.3,876.2 1885.0,874.3 1885.7,875.3 1886.4,877.8 1887.1,877.3 1887.8,875.7 1888.5,877.3 1889.2,878.9 1889.9,879.4 1890.6,878.3 1891.3,875.0 1892.0,873.8 1892.7,874.9 1893.4,877.5 1894.1,878.9 1894.8,877.9 1895.5,878.1 1896.2,878.4 1896.9,877.6 1897.6,878.0 1898.3,878.8 1899.0,880.6 1899.7,879.9 1900.4,876.8 1901.1,876.7 1901.8,878.1 1902.5,877.0 1903.2,876.9 1903.9,875.2 1904.6,875.0 1905.3,877.5 1906.0,876.3 1906.5,873.2" stroke="#008000" stroke-width="5.6"/>
</g>
<g stroke="#000" fill="none">
<line x1="211.6" y1="50.7" x2="280.3" y2="126.6" stroke-width="1.6"/>
<line x1="493.5" y1="467.5" x2="493.5" y2="697.7" stroke-width="2"/>
<line x1="589.8" y1="467" x2="589.8" y2="675.1" stroke-width="2"/>
<line x1="810.8" y1="407" x2="810.8" y2="636.8" stroke-width="2"/>
<line x1="930.5" y1="531.9" x2="930.5" y2="657.6" stroke-width="1.6"/>
<line x1="975.8" y1="406.3" x2="975.8" y2="497.2" stroke-width="1.3" stroke="#555"/>
</g>
<g stroke="#333" fill="none" stroke-width="1.8" stroke-dasharray="4.5 5.3">
<line x1="1246.2" y1="68.5" x2="1246.2" y2="477"/>
<line x1="1437.8" y1="81" x2="1437.8" y2="541"/>
<line x1="1591.8" y1="233.5" x2="1591.8" y2="633.5"/>
<line x1="1763.9" y1="238.3" x2="1763.9" y2="626"/>
<line x1="1656.4" y1="400.3" x2="1656.4" y2="848"/>
<line x1="1578" y1="717.7" x2="1578" y2="908"/>
</g>
<g fill="none" stroke="#000" stroke-width="3.2" stroke-linejoin="round">
<rect x="78.1" y="11.8" width="961.2" height="735.9"/>
<rect x="1181" y="11.7" width="727" height="965.4"/>
</g>
<g stroke="#000" stroke-width="3">
<line x1="166.0" y1="747.7" x2="166.0" y2="737.8"/>
<line x1="398.8" y1="747.7" x2="398.8" y2="737.8"/>
<line x1="631.5" y1="747.7" x2="631.5" y2="737.8"/>
<line x1="864.3" y1="747.7" x2="864.3" y2="737.8"/>
<line x1="282.4" y1="747.7" x2="282.4" y2="742.8"/>
<line x1="515.1" y1="747.7" x2="515.1" y2="742.8"/>
<line x1="747.9" y1="747.7" x2="747.9" y2="742.8"/>
<line x1="980.7" y1="747.7" x2="980.7" y2="742.8"/>
<line x1="1254.0" y1="977" x2="1254.0" y2="991.5"/>
<line x1="1375.2" y1="977" x2="1375.2" y2="991.5"/>
<line x1="1496.5" y1="977" x2="1496.5" y2="991.5"/>
<line x1="1617.7" y1="977" x2="1617.7" y2="991.5"/>
<line x1="1738.9" y1="977" x2="1738.9" y2="991.5"/>
<line x1="1860.1" y1="977" x2="1860.1" y2="991.5"/>
<line x1="1193.4" y1="977" x2="1193.4" y2="984.3"/>
<line x1="1314.6" y1="977" x2="1314.6" y2="984.3"/>
<line x1="1435.8" y1="977" x2="1435.8" y2="984.3"/>
<line x1="1557.1" y1="977" x2="1557.1" y2="984.3"/>
<line x1="1678.3" y1="977" x2="1678.3" y2="984.3"/>
<line x1="1799.5" y1="977" x2="1799.5" y2="984.3"/>
</g>
<text transform="translate(7.91,85.60) scale(1.0845,1)" font-family="'Liberation Sans', Arial, sans-serif" font-size="80.67" font-weight="bold" font-style="normal" fill="#000000">A</text>
<text transform="translate(1098.26,84.40) scale(0.9911,1)" font-family="'Liberation Sans', Arial, sans-serif" font-size="82.70" font-weight="bold" font-style="normal" fill="#000000">B</text>
<text transform="translate(653.25,74.23) scale(1.0239,1)" font-family="'Liberation Sans', Arial, sans-serif" font-size="47.28" font-weight="bold" font-style="normal" fill="#000000">WT-HasAp</text>
<text transform="translate(644.98,132.83) scale(1.0298,1)" font-family="'Liberation Sans', Arial, sans-serif" font-size="46.56" font-weight="bold" font-style="normal" fill="#ff0000">Y57H-HasAp</text>
<text transform="translate(245.08,193.75) scale(1.0314,1)" font-family="'Liberation Sans', Arial, sans-serif" font-size="55.08" font-weight="normal" font-style="normal" fill="#000000">1377</text>
<text transform="translate(279.27,264.45) scale(1.1114,1)" font-family="'Noto Serif CJK SC', 'Liberation Serif', serif" font-size="60.69" font-weight="600" font-style="normal" fill="#000000">ν</text>
<text transform="translate(315.26,288.50) scale(1.0087,1)" font-family="'Liberation Serif', 'Times New Roman', serif" font-size="43.92" font-weight="normal" font-style="normal" fill="#000000">4</text>
<text transform="translate(529.96,306.76) scale(1.1508,1)" font-family="'Noto Serif CJK SC', 'Liberation Serif', serif" font-size="59.96" font-weight="600" font-style="normal" fill="#000000">ν</text>
<text transform="translate(565.98,331.48)" font-family="'Liberation Serif', 'Times New Roman', serif" font-size="42.26" font-weight="normal" font-style="normal" fill="#000000">3</text>
<text transform="translate(427.42,392.81) scale(1.0417,1)" font-family="'Liberation Sans', Arial, sans-serif" font-size="49.29" font-weight="normal" font-style="italic" fill="#000000">6cHS 6cLS</text>
<text transform="translate(408.88,454.25) scale(1.0373,1)" font-family="'Liberation Sans', Arial, sans-serif" font-size="54.80" font-weight="normal" font-style="normal" fill="#000000">1472 1505</text>
<text transform="translate(777.66,253.73) scale(1.1068,1)" font-family="'Noto Serif CJK SC', 'Liberation Serif', serif" font-size="63.41" font-weight="600" font-style="normal" fill="#000000">ν</text>
<text transform="translate(813.53,277.40) scale(1.1350,1)" font-family="'Liberation Serif', 'Times New Roman', serif" font-size="43.50" font-weight="normal" font-style="normal" fill="#000000">2</text>
<text transform="translate(941.26,256.55) scale(1.1077,1)" font-family="'Noto Serif CJK SC', 'Liberation Serif', serif" font-size="61.59" font-weight="600" font-style="normal" fill="#000000">ν</text>
<text transform="translate(979.09,280.38) scale(1.0551,1)" font-family="'Liberation Serif', 'Times New Roman', serif" font-size="42.07" font-weight="normal" font-style="normal" fill="#000000">10</text>
<text transform="translate(751.18,334.17) scale(1.0085,1)" font-family="'Liberation Sans', Arial, sans-serif" font-size="53.39" font-weight="normal" font-style="italic" fill="#000000">6cLS</text>
<text transform="translate(911.98,335.08) scale(1.0359,1)" font-family="'Liberation Sans', Arial, sans-serif" font-size="51.98" font-weight="normal" font-style="italic" fill="#000000">6cLS</text>
<text transform="translate(747.98,391.44) scale(1.0236,1)" font-family="'Liberation Sans', Arial, sans-serif" font-size="55.51" font-weight="normal" font-style="normal" fill="#000000">1582</text>
<text transform="translate(911.60,391.85) scale(1.0324,1)" font-family="'Liberation Sans', Arial, sans-serif" font-size="54.80" font-weight="normal" font-style="normal" fill="#000000">1638</text>
<text transform="translate(854.81,456.34) scale(1.1200,1)" font-family="'Noto Serif CJK SC', 'Liberation Serif', serif" font-size="39.86" font-weight="600" font-style="normal" fill="#000000">ν</text>
<text transform="translate(878.92,472.21) scale(1.0141,1)" font-family="'Liberation Sans', Arial, sans-serif" font-size="28.53" font-weight="normal" font-style="normal" fill="#000000">C=C</text>
<text transform="translate(937.05,482.00) scale(1.0456,1)" font-family="'Liberation Sans', Arial, sans-serif" font-size="16.55" font-weight="normal" font-style="normal" fill="#000000">vinyl</text>
<text transform="translate(877.04,522.62) scale(1.0479,1)" font-family="'Liberation Sans', Arial, sans-serif" font-size="38.42" font-weight="normal" font-style="normal" fill="#000000">1623</text>
<text transform="translate(102.58,800.44) scale(1.0182,1)" font-family="'Liberation Sans', Arial, sans-serif" font-size="55.79" font-weight="normal" font-style="normal" fill="#000000">1360</text>
<text transform="translate(334.58,800.44) scale(1.0182,1)" font-family="'Liberation Sans', Arial, sans-serif" font-size="55.79" font-weight="normal" font-style="normal" fill="#000000">1440</text>
<text transform="translate(567.28,800.44) scale(1.0182,1)" font-family="'Liberation Sans', Arial, sans-serif" font-size="55.79" font-weight="normal" font-style="normal" fill="#000000">1520</text>
<text transform="translate(800.18,800.44) scale(1.0182,1)" font-family="'Liberation Sans', Arial, sans-serif" font-size="55.79" font-weight="normal" font-style="normal" fill="#000000">1600</text>
<text transform="translate(328.81,866.10) scale(1.0410,1)" font-family="'Liberation Sans', Arial, sans-serif" font-size="54.94" font-weight="normal" font-style="normal" fill="#000000">Raman shift / cm</text>
<text transform="translate(756.75,839.90) scale(0.8899,1)" font-family="'Liberation Sans', Arial, sans-serif" font-size="34.45" font-weight="normal" font-style="normal" fill="#000000">-1</text>
<text transform="translate(1207.28,55.42)" font-family="'Liberation Sans', Arial, sans-serif" font-size="47.88" font-weight="normal" font-style="normal" fill="#000000">347</text>
<text transform="translate(1399.81,66.20)" font-family="'Liberation Sans', Arial, sans-serif" font-size="47.42" font-weight="normal" font-style="normal" fill="#000000">424</text>
<text transform="translate(1552.29,221.24) scale(1.0422,1)" font-family="'Liberation Sans', Arial, sans-serif" font-size="46.33" font-weight="normal" font-style="normal" fill="#000000">486</text>
<text transform="translate(1733.42,223.94) scale(0.9640,1)" font-family="'Liberation Sans', Arial, sans-serif" font-size="46.19" font-weight="normal" font-style="normal" fill="#000000">561</text>
<text transform="translate(1629.15,67.00) scale(1.0189,1)" font-family="'Liberation Sans', Arial, sans-serif" font-size="50.14" font-weight="bold" font-style="normal" fill="#000000">WT-HasAp</text>
<text transform="translate(1578.93,131.69)" font-family="'Liberation Sans', Arial, sans-serif" font-size="50.72" font-weight="bold" font-style="normal" fill="#ff0000">Y75H-HasAp</text>
<text transform="translate(1599.66,390.63) scale(0.9812,1)" font-family="'Liberation Sans', Arial, sans-serif" font-size="67.19" font-weight="bold" font-style="normal" fill="#000000">514</text>
<text transform="translate(1799.45,468.30) scale(0.9801,1)" font-family="'Liberation Sans', Arial, sans-serif" font-size="51.02" font-weight="bold" font-style="normal" fill="#ff0000">H</text>
<text transform="translate(1835.28,485.90) scale(1.0346,1)" font-family="'Liberation Sans', Arial, sans-serif" font-size="30.95" font-weight="bold" font-style="normal" fill="#ff0000">2</text>
<text transform="translate(1852.37,468.78)" font-family="'Liberation Sans', Arial, sans-serif" font-size="51.98" font-weight="bold" font-style="normal" fill="#ff0000">O</text>
<text transform="translate(1781.99,571.30)" font-family="'Liberation Sans', Arial, sans-serif" font-size="51.02" font-weight="bold" font-style="normal" fill="#ff0000">H</text>
<text transform="translate(1818.49,589.20)" font-family="'Liberation Sans', Arial, sans-serif" font-size="31.52" font-weight="bold" font-style="normal" fill="#ff0000">2</text>
<text transform="translate(1835.68,547.39)" font-family="'Liberation Sans', Arial, sans-serif" font-size="30.51" font-weight="bold" font-style="normal" fill="#ff0000">18</text>
<text transform="translate(1869.38,571.98) scale(0.9912,1)" font-family="'Liberation Sans', Arial, sans-serif" font-size="52.26" font-weight="bold" font-style="normal" fill="#ff0000">O</text>
<text transform="translate(1801.46,679.50) scale(0.9567,1)" font-family="'Liberation Sans', Arial, sans-serif" font-size="52.18" font-weight="bold" font-style="normal" fill="#ff0000">D</text>
<text transform="translate(1837.48,696.50) scale(1.0443,1)" font-family="'Liberation Sans', Arial, sans-serif" font-size="30.66" font-weight="bold" font-style="normal" fill="#ff0000">2</text>
<text transform="translate(1854.80,679.58) scale(0.9828,1)" font-family="'Liberation Sans', Arial, sans-serif" font-size="52.12" font-weight="bold" font-style="normal" fill="#ff0000">O</text>
<text transform="translate(1213.33,783.60) scale(1.0609,1)" font-family="'Liberation Serif', 'Times New Roman', serif" font-size="48.79" font-weight="normal" font-style="normal" fill="#008000">Δ</text>
<text transform="translate(1242.87,783.24) scale(1.1877,1)" font-family="'Liberation Sans', Arial, sans-serif" font-size="45.98" font-weight="bold" font-style="normal" fill="#008000">(</text>
<text transform="translate(1260.14,760.31) scale(1.0345,1)" font-family="'Liberation Sans', Arial, sans-serif" font-size="28.53" font-weight="bold" font-style="normal" fill="#008000">16</text>
<text transform="translate(1291.37,783.12) scale(1.0290,1)" font-family="'Liberation Sans', Arial, sans-serif" font-size="48.02" font-weight="bold" font-style="normal" fill="#008000">O-</text>
<text transform="translate(1344.00,760.31)" font-family="'Liberation Sans', Arial, sans-serif" font-size="28.53" font-weight="bold" font-style="normal" fill="#008000">18</text>
<text transform="translate(1375.42,783.12) scale(1.0065,1)" font-family="'Liberation Sans', Arial, sans-serif" font-size="48.02" font-weight="bold" font-style="normal" fill="#008000">O)</text>
<text transform="translate(1273.05,883.90) scale(1.0278,1)" font-family="'Liberation Serif', 'Times New Roman', serif" font-size="49.85" font-weight="normal" font-style="normal" fill="#008000">Δ</text>
<text transform="translate(1304.03,883.20) scale(0.9886,1)" font-family="'Liberation Sans', Arial, sans-serif" font-size="47.97" font-weight="bold" font-style="normal" fill="#008000">(H-D)</text>
<text transform="translate(1800.33,769.60) scale(1.0568,1)" font-family="'Liberation Sans', Arial, sans-serif" font-size="36.96" font-weight="bold" font-style="normal" fill="#008000">x2</text>
<text transform="translate(1788.43,917.30) scale(1.0994,1)" font-family="'Liberation Sans', Arial, sans-serif" font-size="35.53" font-weight="bold" font-style="normal" fill="#008000">x2</text>
<text transform="translate(1522.75,960.60) scale(1.0183,1)" font-family="'Liberation Sans', Arial, sans-serif" font-size="65.32" font-weight="bold" font-style="normal" fill="#000000">489</text>
<text transform="translate(1214.19,1037.62) scale(0.9953,1)" font-family="'Liberation Sans', Arial, sans-serif" font-size="47.74" font-weight="normal" font-style="normal" fill="#000000">350</text>
<text transform="translate(1336.32,1037.62) scale(0.9860,1)" font-family="'Liberation Sans', Arial, sans-serif" font-size="47.74" font-weight="normal" font-style="normal" fill="#000000">400</text>
<text transform="translate(1457.62,1037.62) scale(0.9860,1)" font-family="'Liberation Sans', Arial, sans-serif" font-size="47.74" font-weight="normal" font-style="normal" fill="#000000">450</text>
<text transform="translate(1578.00,1037.62)" font-family="'Liberation Sans', Arial, sans-serif" font-size="47.74" font-weight="normal" font-style="normal" fill="#000000">500</text>
<text transform="translate(1699.20,1037.62)" font-family="'Liberation Sans', Arial, sans-serif" font-size="47.74" font-weight="normal" font-style="normal" fill="#000000">550</text>
<text transform="translate(1819.76,1037.62)" font-family="'Liberation Sans', Arial, sans-serif" font-size="47.74" font-weight="normal" font-style="normal" fill="#000000">600</text>
<text transform="translate(1357.33,1093.80) scale(1.0692,1)" font-family="'Liberation Sans', Arial, sans-serif" font-size="44.19" font-weight="normal" font-style="normal" fill="#000000">Raman Shift, cm</text>
<text transform="translate(1706.43,1071.50) scale(0.8826,1)" font-family="'Liberation Sans', Arial, sans-serif" font-size="27.47" font-weight="normal" font-style="normal" fill="#000000">-1</text>
</svg></body></html>
